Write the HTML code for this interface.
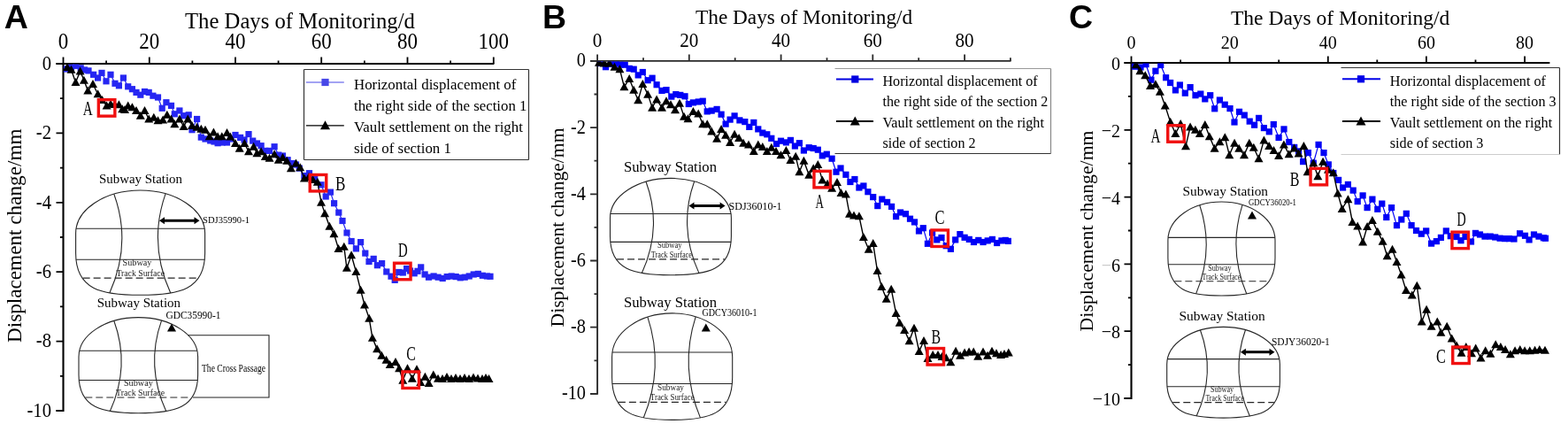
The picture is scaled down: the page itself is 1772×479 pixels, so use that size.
<!DOCTYPE html>
<html><head><meta charset="utf-8"><style>
html,body{margin:0;padding:0;background:#fff;}
svg{display:block;}
</style></head><body>
<svg width="1772" height="479" viewBox="0 0 1772 479">
<rect width="1772" height="479" fill="#fff"/>
<path d="M63.5,72.0 H558.4 M71.5,72.0 V464.0 H63.5" fill="none" stroke="#000" stroke-width="2.1"/>
<path d="M71.5,72.0 v-7.5 M120.1,72.0 v-3.6 M168.8,72.0 v-7.5 M217.4,72.0 v-3.6 M266.0,72.0 v-7.5 M314.6,72.0 v-3.6 M363.2,72.0 v-7.5 M411.9,72.0 v-3.6 M460.5,72.0 v-7.5 M509.1,72.0 v-3.6 M557.8,72.0 v-7.5 M71.5,72.0 h-8 M71.5,111.2 h-3.6 M71.5,150.4 h-8 M71.5,189.6 h-3.6 M71.5,228.8 h-8 M71.5,268.0 h-3.6 M71.5,307.2 h-8 M71.5,346.4 h-3.6 M71.5,385.6 h-8 M71.5,424.8 h-3.6 M71.5,464.0 h-8" fill="none" stroke="#000" stroke-width="1.8"/>
<text transform="translate(71.50,55.00) scale(0.92,1)" font-family="'Liberation Serif', 'Times New Roman', serif" font-size="25" text-anchor="middle" font-weight="normal" fill="#000" >0</text>
<text transform="translate(168.75,55.00) scale(0.92,1)" font-family="'Liberation Serif', 'Times New Roman', serif" font-size="25" text-anchor="middle" font-weight="normal" fill="#000" >20</text>
<text transform="translate(266.00,55.00) scale(0.92,1)" font-family="'Liberation Serif', 'Times New Roman', serif" font-size="25" text-anchor="middle" font-weight="normal" fill="#000" >40</text>
<text transform="translate(363.25,55.00) scale(0.92,1)" font-family="'Liberation Serif', 'Times New Roman', serif" font-size="25" text-anchor="middle" font-weight="normal" fill="#000" >60</text>
<text transform="translate(460.50,55.00) scale(0.92,1)" font-family="'Liberation Serif', 'Times New Roman', serif" font-size="25" text-anchor="middle" font-weight="normal" fill="#000" >80</text>
<text transform="translate(557.75,55.00) scale(0.92,1)" font-family="'Liberation Serif', 'Times New Roman', serif" font-size="25" text-anchor="middle" font-weight="normal" fill="#000" >100</text>
<text transform="translate(58.00,78.80) scale(0.88,1)" font-family="'Liberation Serif', 'Times New Roman', serif" font-size="23.5" text-anchor="end" font-weight="normal" fill="#000" >0</text>
<text transform="translate(58.00,157.20) scale(0.88,1)" font-family="'Liberation Serif', 'Times New Roman', serif" font-size="23.5" text-anchor="end" font-weight="normal" fill="#000" >-2</text>
<text transform="translate(58.00,235.60) scale(0.88,1)" font-family="'Liberation Serif', 'Times New Roman', serif" font-size="23.5" text-anchor="end" font-weight="normal" fill="#000" >-4</text>
<text transform="translate(58.00,314.00) scale(0.88,1)" font-family="'Liberation Serif', 'Times New Roman', serif" font-size="23.5" text-anchor="end" font-weight="normal" fill="#000" >-6</text>
<text transform="translate(58.00,392.40) scale(0.88,1)" font-family="'Liberation Serif', 'Times New Roman', serif" font-size="23.5" text-anchor="end" font-weight="normal" fill="#000" >-8</text>
<text transform="translate(58.00,470.80) scale(0.88,1)" font-family="'Liberation Serif', 'Times New Roman', serif" font-size="23.5" text-anchor="end" font-weight="normal" fill="#000" >-10</text>
<text x="209.00" y="31.90" font-family="'Liberation Serif', 'Times New Roman', serif" font-size="24.7" text-anchor="start" font-weight="normal" fill="#000" >The Days of Monitoring/d</text>
<text transform="translate(23.5,387) rotate(-90)" font-family="'Liberation Serif', 'Times New Roman', serif" font-size="23.2">Displacement change/mm</text>
<text x="4.70" y="31.60" font-family="'Liberation Sans', Arial, sans-serif" font-size="37.5" text-anchor="start" font-weight="bold" fill="#000" >A</text>
<path d="M667.1,68.9 H1142.5 M675.1,68.9 V444.9 H667.1" fill="none" stroke="#2a2a2a" stroke-width="1.9"/>
<path d="M675.1,68.9 v-7.5 M727.0,68.9 v-3.6 M778.8,68.9 v-7.5 M830.7,68.9 v-3.6 M882.6,68.9 v-7.5 M934.5,68.9 v-3.6 M986.3,68.9 v-7.5 M1038.2,68.9 v-3.6 M1090.1,68.9 v-7.5 M1141.9,68.9 v-3.6 M1141.9,68.9 v-3.5 M675.1,68.9 h-8 M675.1,106.5 h-3.6 M675.1,144.1 h-8 M675.1,181.7 h-3.6 M675.1,219.3 h-8 M675.1,256.9 h-3.6 M675.1,294.5 h-8 M675.1,332.1 h-3.6 M675.1,369.7 h-8 M675.1,407.3 h-3.6 M675.1,444.9 h-8" fill="none" stroke="#2a2a2a" stroke-width="1.8"/>
<text transform="translate(675.10,53.00) scale(0.95,1)" font-family="'Liberation Serif', 'Times New Roman', serif" font-size="22.3" text-anchor="middle" font-weight="normal" fill="#000" >0</text>
<text transform="translate(778.84,53.00) scale(0.95,1)" font-family="'Liberation Serif', 'Times New Roman', serif" font-size="22.3" text-anchor="middle" font-weight="normal" fill="#000" >20</text>
<text transform="translate(882.58,53.00) scale(0.95,1)" font-family="'Liberation Serif', 'Times New Roman', serif" font-size="22.3" text-anchor="middle" font-weight="normal" fill="#000" >40</text>
<text transform="translate(986.32,53.00) scale(0.95,1)" font-family="'Liberation Serif', 'Times New Roman', serif" font-size="22.3" text-anchor="middle" font-weight="normal" fill="#000" >60</text>
<text transform="translate(1090.06,53.00) scale(0.95,1)" font-family="'Liberation Serif', 'Times New Roman', serif" font-size="22.3" text-anchor="middle" font-weight="normal" fill="#000" >80</text>
<text transform="translate(662.00,75.40) scale(0.91,1)" font-family="'Liberation Serif', 'Times New Roman', serif" font-size="22.3" text-anchor="end" font-weight="normal" fill="#000" >0</text>
<text transform="translate(662.00,150.60) scale(0.91,1)" font-family="'Liberation Serif', 'Times New Roman', serif" font-size="22.3" text-anchor="end" font-weight="normal" fill="#000" >-2</text>
<text transform="translate(662.00,225.80) scale(0.91,1)" font-family="'Liberation Serif', 'Times New Roman', serif" font-size="22.3" text-anchor="end" font-weight="normal" fill="#000" >-4</text>
<text transform="translate(662.00,301.00) scale(0.91,1)" font-family="'Liberation Serif', 'Times New Roman', serif" font-size="22.3" text-anchor="end" font-weight="normal" fill="#000" >-6</text>
<text transform="translate(662.00,376.20) scale(0.91,1)" font-family="'Liberation Serif', 'Times New Roman', serif" font-size="22.3" text-anchor="end" font-weight="normal" fill="#000" >-8</text>
<text transform="translate(662.00,451.40) scale(0.91,1)" font-family="'Liberation Serif', 'Times New Roman', serif" font-size="22.3" text-anchor="end" font-weight="normal" fill="#000" >-10</text>
<text x="786.00" y="26.60" font-family="'Liberation Serif', 'Times New Roman', serif" font-size="23.3" text-anchor="start" font-weight="normal" fill="#000" >The Days of Monitoring/d</text>
<text transform="translate(637,369.4) rotate(-90)" font-family="'Liberation Serif', 'Times New Roman', serif" font-size="21.6">Displacement change/mm</text>
<text x="613.10" y="31.60" font-family="'Liberation Sans', Arial, sans-serif" font-size="37.5" text-anchor="start" font-weight="bold" fill="#000" >B</text>
<path d="M1270.5,71.0 H1751.4 M1278.5,71.0 V450.0 H1270.5" fill="none" stroke="#000" stroke-width="2.1"/>
<path d="M1278.5,71.0 v-7.5 M1334.1,71.0 v-3.6 M1389.6,71.0 v-7.5 M1445.2,71.0 v-3.6 M1500.8,71.0 v-7.5 M1556.3,71.0 v-3.6 M1611.9,71.0 v-7.5 M1667.5,71.0 v-3.6 M1723.1,71.0 v-7.5 M1278.5,71.0 h-8 M1278.5,108.9 h-3.6 M1278.5,146.8 h-8 M1278.5,184.7 h-3.6 M1278.5,222.6 h-8 M1278.5,260.5 h-3.6 M1278.5,298.4 h-8 M1278.5,336.3 h-3.6 M1278.5,374.2 h-8 M1278.5,412.1 h-3.6 M1278.5,450.0 h-8" fill="none" stroke="#000" stroke-width="1.8"/>
<text transform="translate(1278.50,55.00) scale(0.91,1)" font-family="'Liberation Serif', 'Times New Roman', serif" font-size="22.0" text-anchor="middle" font-weight="normal" fill="#000" >0</text>
<text transform="translate(1389.64,55.00) scale(0.91,1)" font-family="'Liberation Serif', 'Times New Roman', serif" font-size="22.0" text-anchor="middle" font-weight="normal" fill="#000" >20</text>
<text transform="translate(1500.78,55.00) scale(0.91,1)" font-family="'Liberation Serif', 'Times New Roman', serif" font-size="22.0" text-anchor="middle" font-weight="normal" fill="#000" >40</text>
<text transform="translate(1611.92,55.00) scale(0.91,1)" font-family="'Liberation Serif', 'Times New Roman', serif" font-size="22.0" text-anchor="middle" font-weight="normal" fill="#000" >60</text>
<text transform="translate(1723.06,55.00) scale(0.91,1)" font-family="'Liberation Serif', 'Times New Roman', serif" font-size="22.0" text-anchor="middle" font-weight="normal" fill="#000" >80</text>
<text transform="translate(1266.00,79.20) scale(0.91,1)" font-family="'Liberation Serif', 'Times New Roman', serif" font-size="22.0" text-anchor="end" font-weight="normal" fill="#000" >0</text>
<text transform="translate(1266.00,155.00) scale(0.91,1)" font-family="'Liberation Serif', 'Times New Roman', serif" font-size="22.0" text-anchor="end" font-weight="normal" fill="#000" >−2</text>
<text transform="translate(1266.00,230.80) scale(0.91,1)" font-family="'Liberation Serif', 'Times New Roman', serif" font-size="22.0" text-anchor="end" font-weight="normal" fill="#000" >−4</text>
<text transform="translate(1266.00,306.60) scale(0.91,1)" font-family="'Liberation Serif', 'Times New Roman', serif" font-size="22.0" text-anchor="end" font-weight="normal" fill="#000" ><tspan fill="#c8c8c8">−</tspan>6</text>
<text transform="translate(1266.00,382.40) scale(0.91,1)" font-family="'Liberation Serif', 'Times New Roman', serif" font-size="22.0" text-anchor="end" font-weight="normal" fill="#000" >−8</text>
<text transform="translate(1266.00,458.20) scale(0.91,1)" font-family="'Liberation Serif', 'Times New Roman', serif" font-size="22.0" text-anchor="end" font-weight="normal" fill="#000" >−10</text>
<text x="1391.00" y="28.00" font-family="'Liberation Serif', 'Times New Roman', serif" font-size="23.5" text-anchor="start" font-weight="normal" fill="#000" >The Days of Monitoring/d</text>
<text transform="translate(1235,374.4) rotate(-90)" font-family="'Liberation Serif', 'Times New Roman', serif" font-size="21.8">Displacement change/mm</text>
<text x="1207.90" y="31.60" font-family="'Liberation Sans', Arial, sans-serif" font-size="37.5" text-anchor="start" font-weight="bold" fill="#000" >C</text>
<line x1="343.50" y1="78.50" x2="597.50" y2="78.50" stroke="#333" stroke-width="1.2" />
<line x1="597.50" y1="78.50" x2="597.50" y2="180.50" stroke="#333" stroke-width="1.2" />
<line x1="343.50" y1="180.50" x2="597.50" y2="180.50" stroke="#333" stroke-width="1.2" />
<line x1="343.50" y1="78.50" x2="343.50" y2="180.50" stroke="#333" stroke-width="1.2" />
<line x1="346.00" y1="93.00" x2="388.80" y2="93.00" stroke="#4848e8" stroke-width="1.1" />
<rect x="363.40" y="88.90" width="8.2" height="8.2" fill="#4848e8"/>
<line x1="346.00" y1="141.80" x2="388.80" y2="141.80" stroke="#000" stroke-width="1.2" />
<path d="M367.50,136.36 L373.00,146.26 L362.00,146.26 Z" fill="#000"/>
<text x="400.00" y="100.50" font-family="'Liberation Serif', 'Times New Roman', serif" font-size="16.85" text-anchor="start" font-weight="normal" fill="#000" >Horizontal displacement of</text>
<text x="400.00" y="124.50" font-family="'Liberation Serif', 'Times New Roman', serif" font-size="16.85" text-anchor="start" font-weight="normal" fill="#000" >the right side of the section 1</text>
<text x="400.00" y="148.80" font-family="'Liberation Serif', 'Times New Roman', serif" font-size="16.85" text-anchor="start" font-weight="normal" fill="#000" >Vault settlement on the right</text>
<text x="400.00" y="173.00" font-family="'Liberation Serif', 'Times New Roman', serif" font-size="16.85" text-anchor="start" font-weight="normal" fill="#000" >side of section 1</text>
<line x1="943.50" y1="77.50" x2="1187.50" y2="77.50" stroke="#999" stroke-width="1.2" />
<line x1="1187.50" y1="77.50" x2="1187.50" y2="173.50" stroke="#888" stroke-width="1.2" />
<line x1="943.50" y1="173.50" x2="1187.50" y2="173.50" stroke="#333" stroke-width="1.2" />
<line x1="945.00" y1="89.50" x2="987.00" y2="89.50" stroke="#0000e0" stroke-width="2" />
<rect x="962.20" y="85.40" width="8.2" height="8.2" fill="#0000e0"/>
<line x1="945.00" y1="137.00" x2="987.00" y2="137.00" stroke="#000" stroke-width="2" />
<path d="M966.30,131.56 L971.80,141.46 L960.80,141.46 Z" fill="#000"/>
<text x="997.50" y="97.00" font-family="'Liberation Serif', 'Times New Roman', serif" font-size="16.1" text-anchor="start" font-weight="normal" fill="#000" >Horizontal displacement of</text>
<text x="997.50" y="120.00" font-family="'Liberation Serif', 'Times New Roman', serif" font-size="16.1" text-anchor="start" font-weight="normal" fill="#000" >the right side of the section 2</text>
<text x="997.50" y="143.80" font-family="'Liberation Serif', 'Times New Roman', serif" font-size="16.1" text-anchor="start" font-weight="normal" fill="#000" >Vault settlement on the right</text>
<text x="997.50" y="167.00" font-family="'Liberation Serif', 'Times New Roman', serif" font-size="16.1" text-anchor="start" font-weight="normal" fill="#000" >side of section 2</text>
<line x1="1515.50" y1="76.50" x2="1762.50" y2="76.50" stroke="#333" stroke-width="1.2" />
<line x1="1762.50" y1="76.50" x2="1762.50" y2="174.50" stroke="#333" stroke-width="1.2" />
<line x1="1515.50" y1="174.50" x2="1762.50" y2="174.50" stroke="#ccc" stroke-width="1.2" />
<line x1="1517.00" y1="89.30" x2="1560.00" y2="89.30" stroke="#0000e8" stroke-width="2" />
<rect x="1533.90" y="85.20" width="8.2" height="8.2" fill="#0000e8"/>
<line x1="1517.00" y1="137.00" x2="1560.00" y2="137.00" stroke="#000" stroke-width="2.2" />
<path d="M1538.00,131.56 L1543.50,141.46 L1532.50,141.46 Z" fill="#000"/>
<text x="1570.75" y="97.00" font-family="'Liberation Serif', 'Times New Roman', serif" font-size="16.2" text-anchor="start" font-weight="normal" fill="#000" >Horizontal displacement of</text>
<text x="1570.75" y="120.00" font-family="'Liberation Serif', 'Times New Roman', serif" font-size="16.2" text-anchor="start" font-weight="normal" fill="#000" >the right side of the section 3</text>
<text x="1570.75" y="144.30" font-family="'Liberation Serif', 'Times New Roman', serif" font-size="16.2" text-anchor="start" font-weight="normal" fill="#000" >Vault settlement on the right</text>
<text x="1570.75" y="167.00" font-family="'Liberation Serif', 'Times New Roman', serif" font-size="16.2" text-anchor="start" font-weight="normal" fill="#000" >side of section 3</text>
<text x="112.00" y="207.00" font-family="'Liberation Serif', 'Times New Roman', serif" font-size="15" text-anchor="start" font-weight="normal" fill="#000" textLength="94.0" lengthAdjust="spacingAndGlyphs">Subway Station</text>
<path d="M85.60,263.50 A73.00,48.50 0 0 1 231.60,263.50 L231.60,285.98 C231.60,327.38 202.40,333.30 158.60,333.30 C114.80,333.30 85.60,327.38 85.60,285.98 Z" fill="none" stroke="#262626" stroke-width="1.1"/>
<line x1="86.04" y1="258.20" x2="231.16" y2="258.20" stroke="#262626" stroke-width="1.1" />
<line x1="85.93" y1="293.20" x2="231.27" y2="293.20" stroke="#262626" stroke-width="1.1" />
<line x1="93.64" y1="314.10" x2="223.56" y2="314.10" stroke="#262626" stroke-width="1.1" stroke-dasharray="8 4"/>
<path d="M128.82,219.22 Q149.11,275.09 123.85,330.97" fill="none" stroke="#262626" stroke-width="1.1"/>
<path d="M187.07,218.84 Q167.29,274.96 192.76,331.07" fill="none" stroke="#262626" stroke-width="1.1"/>
<text x="138.62" y="300.00" font-family="'Liberation Serif', 'Times New Roman', serif" font-size="10.5" text-anchor="start" font-weight="normal" fill="#222" textLength="32.8" lengthAdjust="spacingAndGlyphs">Subway</text>
<text x="131.40" y="312.00" font-family="'Liberation Serif', 'Times New Roman', serif" font-size="10.5" text-anchor="start" font-weight="normal" fill="#222" textLength="54.6" lengthAdjust="spacingAndGlyphs">Track Surface</text>
<line x1="185.00" y1="249.3" x2="220.50" y2="249.3" stroke="#000" stroke-width="3"/>
<path d="M180.00,249.3 l6,-4 v8 Z M225.50,249.3 l-6,-4 v8 Z" fill="#000"/>
<text x="229.00" y="252.40" font-family="'Liberation Serif', 'Times New Roman', serif" font-size="11" text-anchor="start" font-weight="normal" fill="#000" textLength="53" lengthAdjust="spacingAndGlyphs">SDJ35990-1</text>
<text x="109.80" y="347.00" font-family="'Liberation Serif', 'Times New Roman', serif" font-size="15" text-anchor="start" font-weight="normal" fill="#000" textLength="94.2" lengthAdjust="spacingAndGlyphs">Subway Station</text>
<path d="M89.00,402.96 A67.30,44.36 0 0 1 223.60,402.96 L223.60,423.52 C223.60,461.39 196.68,466.80 156.30,466.80 C115.92,466.80 89.00,461.39 89.00,423.52 Z" fill="none" stroke="#262626" stroke-width="1.1"/>
<line x1="89.79" y1="396.20" x2="222.81" y2="396.20" stroke="#262626" stroke-width="1.1" />
<line x1="89.24" y1="429.50" x2="223.36" y2="429.50" stroke="#262626" stroke-width="1.1" />
<line x1="96.31" y1="449.00" x2="216.29" y2="449.00" stroke="#262626" stroke-width="1.1" stroke-dasharray="8 4"/>
<path d="M128.84,362.46 Q147.55,413.56 124.27,464.66" fill="none" stroke="#262626" stroke-width="1.1"/>
<path d="M182.55,362.11 Q164.31,413.44 187.80,464.76" fill="none" stroke="#262626" stroke-width="1.1"/>
<text x="139.90" y="435.70" font-family="'Liberation Serif', 'Times New Roman', serif" font-size="10.5" text-anchor="start" font-weight="normal" fill="#222" textLength="33.0" lengthAdjust="spacingAndGlyphs">Subway</text>
<text x="131.00" y="447.20" font-family="'Liberation Serif', 'Times New Roman', serif" font-size="10.5" text-anchor="start" font-weight="normal" fill="#222" textLength="55.0" lengthAdjust="spacingAndGlyphs">Track Surface</text>
<text x="187.50" y="360.00" font-family="'Liberation Serif', 'Times New Roman', serif" font-size="11.5" text-anchor="start" font-weight="normal" fill="#000" textLength="62" lengthAdjust="spacingAndGlyphs">GDC35990-1</text>
<path d="M194.00,365.45 L199.00,374.45 L189.00,374.45 Z" fill="#000"/>
<path d="M212,378.8 H304 V449 H218" fill="none" stroke="#222" stroke-width="1.1"/>
<text x="228.00" y="420.00" font-family="'Liberation Serif', 'Times New Roman', serif" font-size="11.5" text-anchor="start" font-weight="normal" fill="#000" textLength="72" lengthAdjust="spacingAndGlyphs">The Cross Passage</text>
<text x="705.00" y="193.50" font-family="'Liberation Serif', 'Times New Roman', serif" font-size="16.5" text-anchor="start" font-weight="normal" fill="#000" textLength="105.0" lengthAdjust="spacingAndGlyphs">Subway Station</text>
<path d="M689.50,246.21 A68.45,44.81 0 0 1 826.40,246.21 L826.40,266.98 C826.40,305.24 799.02,310.70 757.95,310.70 C716.88,310.70 689.50,305.24 689.50,266.98 Z" fill="none" stroke="#262626" stroke-width="1.1"/>
<line x1="689.88" y1="241.50" x2="826.02" y2="241.50" stroke="#262626" stroke-width="1.1" />
<line x1="689.78" y1="273.40" x2="826.12" y2="273.40" stroke="#262626" stroke-width="1.1" />
<line x1="697.04" y1="292.90" x2="818.86" y2="292.90" stroke="#262626" stroke-width="1.1" stroke-dasharray="8 4"/>
<path d="M730.02,205.30 Q749.05,256.92 725.37,308.54" fill="none" stroke="#262626" stroke-width="1.1"/>
<path d="M784.65,204.95 Q766.10,256.79 789.98,308.64" fill="none" stroke="#262626" stroke-width="1.1"/>
<text x="742.97" y="280.30" font-family="'Liberation Serif', 'Times New Roman', serif" font-size="10.5" text-anchor="start" font-weight="normal" fill="#222" textLength="27.7" lengthAdjust="spacingAndGlyphs">Subway</text>
<text x="735.80" y="290.70" font-family="'Liberation Serif', 'Times New Roman', serif" font-size="10.5" text-anchor="start" font-weight="normal" fill="#222" textLength="46.1" lengthAdjust="spacingAndGlyphs">Track Surface</text>
<line x1="783.50" y1="232.5" x2="814.60" y2="232.5" stroke="#000" stroke-width="3"/>
<path d="M778.50,232.5 l6,-4 v8 Z M819.60,232.5 l-6,-4 v8 Z" fill="#000"/>
<text x="823.60" y="236.50" font-family="'Liberation Serif', 'Times New Roman', serif" font-size="12" text-anchor="start" font-weight="normal" fill="#000" textLength="60" lengthAdjust="spacingAndGlyphs">SDJ36010-1</text>
<text x="704.90" y="347.20" font-family="'Liberation Serif', 'Times New Roman', serif" font-size="16.5" text-anchor="start" font-weight="normal" fill="#000" textLength="105.1" lengthAdjust="spacingAndGlyphs">Subway Station</text>
<path d="M691.60,403.30 A68.05,49.40 0 0 1 827.70,403.30 L827.70,426.20 C827.70,468.38 800.48,474.40 759.65,474.40 C718.82,474.40 691.60,468.38 691.60,426.20 Z" fill="none" stroke="#262626" stroke-width="1.1"/>
<line x1="691.99" y1="398.00" x2="827.31" y2="398.00" stroke="#262626" stroke-width="1.1" />
<line x1="691.90" y1="433.50" x2="827.40" y2="433.50" stroke="#262626" stroke-width="1.1" />
<line x1="698.87" y1="454.40" x2="820.43" y2="454.40" stroke="#262626" stroke-width="1.1" stroke-dasharray="8 4"/>
<path d="M731.89,358.20 Q750.80,415.11 727.26,472.02" fill="none" stroke="#262626" stroke-width="1.1"/>
<path d="M786.19,357.81 Q767.75,414.97 791.50,472.13" fill="none" stroke="#262626" stroke-width="1.1"/>
<text x="743.06" y="441.20" font-family="'Liberation Serif', 'Times New Roman', serif" font-size="10.5" text-anchor="start" font-weight="normal" fill="#222" textLength="29.9" lengthAdjust="spacingAndGlyphs">Subway</text>
<text x="734.80" y="451.80" font-family="'Liberation Serif', 'Times New Roman', serif" font-size="10.5" text-anchor="start" font-weight="normal" fill="#222" textLength="49.8" lengthAdjust="spacingAndGlyphs">Track Surface</text>
<text x="793.50" y="357.20" font-family="'Liberation Serif', 'Times New Roman', serif" font-size="11.5" text-anchor="start" font-weight="normal" fill="#000" textLength="62" lengthAdjust="spacingAndGlyphs">GDCY36010-1</text>
<path d="M797.80,365.55 L802.80,374.55 L792.80,374.55 Z" fill="#000"/>
<text x="1336.50" y="220.70" font-family="'Liberation Serif', 'Times New Roman', serif" font-size="15" text-anchor="start" font-weight="normal" fill="#000" textLength="96.5" lengthAdjust="spacingAndGlyphs">Subway Station</text>
<path d="M1319.90,271.46 A60.55,43.46 0 0 1 1441.00,271.46 L1441.00,291.60 C1441.00,328.70 1416.78,334.00 1380.45,334.00 C1344.12,334.00 1319.90,328.70 1319.90,291.60 Z" fill="none" stroke="#262626" stroke-width="1.1"/>
<line x1="1320.05" y1="268.40" x2="1440.85" y2="268.40" stroke="#262626" stroke-width="1.1" />
<line x1="1320.24" y1="298.80" x2="1440.66" y2="298.80" stroke="#262626" stroke-width="1.1" />
<line x1="1327.37" y1="317.80" x2="1433.53" y2="317.80" stroke="#262626" stroke-width="1.1" stroke-dasharray="8 4"/>
<path d="M1355.75,231.78 Q1372.58,281.85 1351.63,331.91" fill="none" stroke="#262626" stroke-width="1.1"/>
<path d="M1404.06,231.44 Q1387.66,281.72 1408.79,332.00" fill="none" stroke="#262626" stroke-width="1.1"/>
<text x="1365.26" y="305.50" font-family="'Liberation Serif', 'Times New Roman', serif" font-size="10.5" text-anchor="start" font-weight="normal" fill="#222" textLength="26.3" lengthAdjust="spacingAndGlyphs">Subway</text>
<text x="1358.50" y="315.70" font-family="'Liberation Serif', 'Times New Roman', serif" font-size="10.5" text-anchor="start" font-weight="normal" fill="#222" textLength="43.8" lengthAdjust="spacingAndGlyphs">Track Surface</text>
<text x="1411.00" y="232.40" font-family="'Liberation Serif', 'Times New Roman', serif" font-size="10.5" text-anchor="start" font-weight="normal" fill="#000" textLength="54" lengthAdjust="spacingAndGlyphs">GDCY36020-1</text>
<path d="M1415.00,238.55 L1420.00,247.55 L1410.00,247.55 Z" fill="#000"/>
<text x="1332.40" y="362.30" font-family="'Liberation Serif', 'Times New Roman', serif" font-size="15" text-anchor="start" font-weight="normal" fill="#000" textLength="97.3" lengthAdjust="spacingAndGlyphs">Subway Station</text>
<path d="M1318.70,411.51 A63.85,42.11 0 0 1 1446.40,411.51 L1446.40,431.02 C1446.40,466.97 1420.86,472.10 1382.55,472.10 C1344.24,472.10 1318.70,466.97 1318.70,431.02 Z" fill="none" stroke="#262626" stroke-width="1.1"/>
<line x1="1319.33" y1="405.60" x2="1445.77" y2="405.60" stroke="#262626" stroke-width="1.1" />
<line x1="1318.94" y1="436.80" x2="1446.16" y2="436.80" stroke="#262626" stroke-width="1.1" />
<line x1="1325.27" y1="454.60" x2="1439.83" y2="454.60" stroke="#262626" stroke-width="1.1" stroke-dasharray="8 4"/>
<path d="M1356.50,373.06 Q1374.25,421.57 1352.16,470.07" fill="none" stroke="#262626" stroke-width="1.1"/>
<path d="M1407.45,372.73 Q1390.15,421.45 1412.43,470.16" fill="none" stroke="#262626" stroke-width="1.1"/>
<text x="1367.92" y="443.00" font-family="'Liberation Serif', 'Times New Roman', serif" font-size="10.5" text-anchor="start" font-weight="normal" fill="#222" textLength="26.2" lengthAdjust="spacingAndGlyphs">Subway</text>
<text x="1362.40" y="452.60" font-family="'Liberation Serif', 'Times New Roman', serif" font-size="10.5" text-anchor="start" font-weight="normal" fill="#222" textLength="43.6" lengthAdjust="spacingAndGlyphs">Track Surface</text>
<line x1="1406.90" y1="397.7" x2="1435.50" y2="397.7" stroke="#000" stroke-width="3"/>
<path d="M1401.90,397.7 l6,-4 v8 Z M1440.50,397.7 l-6,-4 v8 Z" fill="#000"/>
<text x="1436.90" y="389.80" font-family="'Liberation Serif', 'Times New Roman', serif" font-size="12" text-anchor="start" font-weight="normal" fill="#000" textLength="66" lengthAdjust="spacingAndGlyphs">SDJY36020-1</text>
<clipPath id="clipA"><rect x="59.5" y="72.5" width="510.2" height="392.0"/></clipPath>
<g clip-path="url(#clipA)">
<path d="M75.5,78.0 L80.5,76.0 L85.5,74.3 L91.2,76.8 L95.5,79.0 L100.0,79.9 L105.6,84.3 L110.6,88.0 L115.0,82.4 L120.0,91.8 L125.0,84.3 L130.0,94.3 L134.4,96.8 L139.4,88.0 L144.7,97.8 L149.4,100.7 L154.0,104.4 L158.8,107.2 L163.5,103.5 L168.2,104.4 L172.9,108.2 L178.5,110.0 L183.2,122.3 L187.9,115.7 L193.5,119.4 L197.3,128.8 L202.9,125.0 L207.6,130.7 L213.2,129.8 L217.0,146.7 L222.6,134.5 L227.3,155.1 L232.0,157.0 L237.7,158.9 L242.0,160.0 L246.1,161.7 L251.0,161.0 L256.5,161.0 L261.0,157.0 L266.0,152.5 L271.6,155.4 L276.0,158.0 L281.0,151.6 L285.7,159.1 L290.5,162.0 L295.1,164.7 L299.8,170.4 L304.5,170.4 L310.1,165.7 L314.8,175.1 L319.5,176.0 L325.1,180.7 L330.8,184.5 L334.5,186.0 L338.3,190.1 L343.9,198.5 L349.5,195.7 L355.7,202.5 L363.0,208.8 L368.2,222.0 L373.4,217.1 L377.6,229.7 L382.8,240.1 L387.0,249.5 L392.0,263.0 L397.1,272.5 L402.4,280.9 L407.6,273.6 L412.8,286.1 L417.0,295.5 L422.2,292.4 L426.4,299.7 L431.6,297.6 L436.8,307.0 L442.0,312.2 L446.2,316.4 L450.7,307.5 L455.3,308.0 L459.6,303.5 L463.5,306.0 L468.2,308.8 L472.0,306.3 L475.7,301.9 L480.1,310.0 L484.5,313.2 L490.1,312.0 L495.1,313.2 L500.2,314.5 L505.2,312.6 L510.2,312.0 L515.2,312.6 L520.2,313.8 L525.2,313.2 L530.2,312.0 L535.2,310.0 L540.3,309.4 L545.3,311.3 L550.3,312.0 L554.0,312.3" fill="none" stroke="#2626f2" stroke-width="1.2"/>
<g><rect x="71.90" y="74.40" width="7.2" height="7.2" fill="#2626f2"/><rect x="76.90" y="72.40" width="7.2" height="7.2" fill="#2626f2"/><rect x="81.90" y="70.70" width="7.2" height="7.2" fill="#2626f2"/><rect x="87.60" y="73.20" width="7.2" height="7.2" fill="#2626f2"/><rect x="91.90" y="75.40" width="7.2" height="7.2" fill="#2626f2"/><rect x="96.40" y="76.30" width="7.2" height="7.2" fill="#2626f2"/><rect x="102.00" y="80.70" width="7.2" height="7.2" fill="#2626f2"/><rect x="107.00" y="84.40" width="7.2" height="7.2" fill="#2626f2"/><rect x="111.40" y="78.80" width="7.2" height="7.2" fill="#2626f2"/><rect x="116.40" y="88.20" width="7.2" height="7.2" fill="#2626f2"/><rect x="121.40" y="80.70" width="7.2" height="7.2" fill="#2626f2"/><rect x="126.40" y="90.70" width="7.2" height="7.2" fill="#2626f2"/><rect x="130.80" y="93.20" width="7.2" height="7.2" fill="#2626f2"/><rect x="135.80" y="84.40" width="7.2" height="7.2" fill="#2626f2"/><rect x="141.10" y="94.20" width="7.2" height="7.2" fill="#2626f2"/><rect x="145.80" y="97.10" width="7.2" height="7.2" fill="#2626f2"/><rect x="150.40" y="100.80" width="7.2" height="7.2" fill="#2626f2"/><rect x="155.20" y="103.60" width="7.2" height="7.2" fill="#2626f2"/><rect x="159.90" y="99.90" width="7.2" height="7.2" fill="#2626f2"/><rect x="164.60" y="100.80" width="7.2" height="7.2" fill="#2626f2"/><rect x="169.30" y="104.60" width="7.2" height="7.2" fill="#2626f2"/><rect x="174.90" y="106.40" width="7.2" height="7.2" fill="#2626f2"/><rect x="179.60" y="118.70" width="7.2" height="7.2" fill="#2626f2"/><rect x="184.30" y="112.10" width="7.2" height="7.2" fill="#2626f2"/><rect x="189.90" y="115.80" width="7.2" height="7.2" fill="#2626f2"/><rect x="193.70" y="125.20" width="7.2" height="7.2" fill="#2626f2"/><rect x="199.30" y="121.40" width="7.2" height="7.2" fill="#2626f2"/><rect x="204.00" y="127.10" width="7.2" height="7.2" fill="#2626f2"/><rect x="209.60" y="126.20" width="7.2" height="7.2" fill="#2626f2"/><rect x="213.40" y="143.10" width="7.2" height="7.2" fill="#2626f2"/><rect x="219.00" y="130.90" width="7.2" height="7.2" fill="#2626f2"/><rect x="223.70" y="151.50" width="7.2" height="7.2" fill="#2626f2"/><rect x="228.40" y="153.40" width="7.2" height="7.2" fill="#2626f2"/><rect x="234.10" y="155.30" width="7.2" height="7.2" fill="#2626f2"/><rect x="238.40" y="156.40" width="7.2" height="7.2" fill="#2626f2"/><rect x="242.50" y="158.10" width="7.2" height="7.2" fill="#2626f2"/><rect x="247.40" y="157.40" width="7.2" height="7.2" fill="#2626f2"/><rect x="252.90" y="157.40" width="7.2" height="7.2" fill="#2626f2"/><rect x="257.40" y="153.40" width="7.2" height="7.2" fill="#2626f2"/><rect x="262.40" y="148.90" width="7.2" height="7.2" fill="#2626f2"/><rect x="268.00" y="151.80" width="7.2" height="7.2" fill="#2626f2"/><rect x="272.40" y="154.40" width="7.2" height="7.2" fill="#2626f2"/><rect x="277.40" y="148.00" width="7.2" height="7.2" fill="#2626f2"/><rect x="282.10" y="155.50" width="7.2" height="7.2" fill="#2626f2"/><rect x="286.90" y="158.40" width="7.2" height="7.2" fill="#2626f2"/><rect x="291.50" y="161.10" width="7.2" height="7.2" fill="#2626f2"/><rect x="296.20" y="166.80" width="7.2" height="7.2" fill="#2626f2"/><rect x="300.90" y="166.80" width="7.2" height="7.2" fill="#2626f2"/><rect x="306.50" y="162.10" width="7.2" height="7.2" fill="#2626f2"/><rect x="311.20" y="171.50" width="7.2" height="7.2" fill="#2626f2"/><rect x="315.90" y="172.40" width="7.2" height="7.2" fill="#2626f2"/><rect x="321.50" y="177.10" width="7.2" height="7.2" fill="#2626f2"/><rect x="327.20" y="180.90" width="7.2" height="7.2" fill="#2626f2"/><rect x="330.90" y="182.40" width="7.2" height="7.2" fill="#2626f2"/><rect x="334.70" y="186.50" width="7.2" height="7.2" fill="#2626f2"/><rect x="340.30" y="194.90" width="7.2" height="7.2" fill="#2626f2"/><rect x="345.90" y="192.10" width="7.2" height="7.2" fill="#2626f2"/><rect x="352.10" y="198.90" width="7.2" height="7.2" fill="#2626f2"/><rect x="359.40" y="205.20" width="7.2" height="7.2" fill="#2626f2"/><rect x="364.60" y="218.40" width="7.2" height="7.2" fill="#2626f2"/><rect x="369.80" y="213.50" width="7.2" height="7.2" fill="#2626f2"/><rect x="374.00" y="226.10" width="7.2" height="7.2" fill="#2626f2"/><rect x="379.20" y="236.50" width="7.2" height="7.2" fill="#2626f2"/><rect x="383.40" y="245.90" width="7.2" height="7.2" fill="#2626f2"/><rect x="388.40" y="259.40" width="7.2" height="7.2" fill="#2626f2"/><rect x="393.50" y="268.90" width="7.2" height="7.2" fill="#2626f2"/><rect x="398.80" y="277.30" width="7.2" height="7.2" fill="#2626f2"/><rect x="404.00" y="270.00" width="7.2" height="7.2" fill="#2626f2"/><rect x="409.20" y="282.50" width="7.2" height="7.2" fill="#2626f2"/><rect x="413.40" y="291.90" width="7.2" height="7.2" fill="#2626f2"/><rect x="418.60" y="288.80" width="7.2" height="7.2" fill="#2626f2"/><rect x="422.80" y="296.10" width="7.2" height="7.2" fill="#2626f2"/><rect x="428.00" y="294.00" width="7.2" height="7.2" fill="#2626f2"/><rect x="433.20" y="303.40" width="7.2" height="7.2" fill="#2626f2"/><rect x="438.40" y="308.60" width="7.2" height="7.2" fill="#2626f2"/><rect x="442.60" y="312.80" width="7.2" height="7.2" fill="#2626f2"/><rect x="447.10" y="303.90" width="7.2" height="7.2" fill="#2626f2"/><rect x="451.70" y="304.40" width="7.2" height="7.2" fill="#2626f2"/><rect x="456.00" y="299.90" width="7.2" height="7.2" fill="#2626f2"/><rect x="459.90" y="302.40" width="7.2" height="7.2" fill="#2626f2"/><rect x="464.60" y="305.20" width="7.2" height="7.2" fill="#2626f2"/><rect x="468.40" y="302.70" width="7.2" height="7.2" fill="#2626f2"/><rect x="472.10" y="298.30" width="7.2" height="7.2" fill="#2626f2"/><rect x="476.50" y="306.40" width="7.2" height="7.2" fill="#2626f2"/><rect x="480.90" y="309.60" width="7.2" height="7.2" fill="#2626f2"/><rect x="486.50" y="308.40" width="7.2" height="7.2" fill="#2626f2"/><rect x="491.50" y="309.60" width="7.2" height="7.2" fill="#2626f2"/><rect x="496.60" y="310.90" width="7.2" height="7.2" fill="#2626f2"/><rect x="501.60" y="309.00" width="7.2" height="7.2" fill="#2626f2"/><rect x="506.60" y="308.40" width="7.2" height="7.2" fill="#2626f2"/><rect x="511.60" y="309.00" width="7.2" height="7.2" fill="#2626f2"/><rect x="516.60" y="310.20" width="7.2" height="7.2" fill="#2626f2"/><rect x="521.60" y="309.60" width="7.2" height="7.2" fill="#2626f2"/><rect x="526.60" y="308.40" width="7.2" height="7.2" fill="#2626f2"/><rect x="531.60" y="306.40" width="7.2" height="7.2" fill="#2626f2"/><rect x="536.70" y="305.80" width="7.2" height="7.2" fill="#2626f2"/><rect x="541.70" y="307.70" width="7.2" height="7.2" fill="#2626f2"/><rect x="546.70" y="308.40" width="7.2" height="7.2" fill="#2626f2"/><rect x="550.40" y="308.70" width="7.2" height="7.2" fill="#2626f2"/></g>
<path d="M76.0,76.0 L80.5,78.7 L85.5,93.0 L90.6,80.5 L94.9,90.6 L99.3,102.5 L105.0,95.0 L110.6,106.2 L115.5,113.0 L120.6,119.4 L125.0,117.5 L129.5,118.0 L134.4,118.1 L138.2,123.1 L141.0,124.0 L144.7,119.4 L149.4,121.3 L154.0,125.0 L158.8,130.7 L163.5,125.0 L168.2,134.5 L173.8,132.6 L178.5,136.3 L184.1,135.4 L188.8,129.8 L193.5,134.5 L197.3,140.1 L202.9,134.5 L207.6,142.9 L212.3,134.5 L217.0,142.0 L222.6,143.8 L227.3,145.7 L232.0,146.7 L236.7,154.2 L241.4,149.5 L246.1,154.2 L250.8,154.2 L256.5,150.0 L260.3,154.4 L266.0,161.9 L270.7,167.6 L276.3,161.9 L281.0,171.3 L286.6,165.7 L290.4,173.2 L295.1,171.3 L299.8,177.0 L304.5,178.8 L310.1,174.1 L314.8,180.7 L319.5,177.9 L324.2,181.6 L328.9,190.1 L334.5,184.5 L339.2,189.2 L343.9,201.4 L349.0,200.0 L353.5,203.0 L358.8,205.7 L363.0,228.6 L367.1,241.1 L372.4,255.8 L377.4,264.2 L382.5,280.9 L388.8,278.8 L391.9,302.8 L397.1,288.2 L402.4,307.0 L407.6,327.8 L412.0,344.5 L417.2,359.6 L420.9,381.8 L426.1,394.3 L431.3,401.6 L436.5,406.8 L440.7,412.0 L447.0,408.9 L451.1,416.2 L455.3,429.8 L460.5,416.2 L465.8,427.7 L471.0,417.2 L475.2,431.9 L480.4,425.6 L484.6,432.9 L489.8,423.5 L495.0,427.7 L500.0,428.0 L505.0,426.0 L510.0,428.0 L515.0,427.0 L520.0,428.0 L525.0,427.0 L530.0,428.0 L535.0,426.5 L540.0,427.5 L545.0,428.0 L549.0,427.0 L552.5,428.0" fill="none" stroke="#000" stroke-width="1.4"/>
<g><path d="M76.00,71.05 L81.00,80.05 L71.00,80.05 Z" fill="#000"/><path d="M80.50,73.75 L85.50,82.75 L75.50,82.75 Z" fill="#000"/><path d="M85.50,88.05 L90.50,97.05 L80.50,97.05 Z" fill="#000"/><path d="M90.60,75.55 L95.60,84.55 L85.60,84.55 Z" fill="#000"/><path d="M94.90,85.65 L99.90,94.65 L89.90,94.65 Z" fill="#000"/><path d="M99.30,97.55 L104.30,106.55 L94.30,106.55 Z" fill="#000"/><path d="M105.00,90.05 L110.00,99.05 L100.00,99.05 Z" fill="#000"/><path d="M110.60,101.25 L115.60,110.25 L105.60,110.25 Z" fill="#000"/><path d="M115.50,108.05 L120.50,117.05 L110.50,117.05 Z" fill="#000"/><path d="M120.60,114.45 L125.60,123.45 L115.60,123.45 Z" fill="#000"/><path d="M125.00,112.55 L130.00,121.55 L120.00,121.55 Z" fill="#000"/><path d="M129.50,113.05 L134.50,122.05 L124.50,122.05 Z" fill="#000"/><path d="M134.40,113.15 L139.40,122.15 L129.40,122.15 Z" fill="#000"/><path d="M138.20,118.15 L143.20,127.15 L133.20,127.15 Z" fill="#000"/><path d="M141.00,119.05 L146.00,128.05 L136.00,128.05 Z" fill="#000"/><path d="M144.70,114.45 L149.70,123.45 L139.70,123.45 Z" fill="#000"/><path d="M149.40,116.35 L154.40,125.35 L144.40,125.35 Z" fill="#000"/><path d="M154.00,120.05 L159.00,129.05 L149.00,129.05 Z" fill="#000"/><path d="M158.80,125.75 L163.80,134.75 L153.80,134.75 Z" fill="#000"/><path d="M163.50,120.05 L168.50,129.05 L158.50,129.05 Z" fill="#000"/><path d="M168.20,129.55 L173.20,138.55 L163.20,138.55 Z" fill="#000"/><path d="M173.80,127.65 L178.80,136.65 L168.80,136.65 Z" fill="#000"/><path d="M178.50,131.35 L183.50,140.35 L173.50,140.35 Z" fill="#000"/><path d="M184.10,130.45 L189.10,139.45 L179.10,139.45 Z" fill="#000"/><path d="M188.80,124.85 L193.80,133.85 L183.80,133.85 Z" fill="#000"/><path d="M193.50,129.55 L198.50,138.55 L188.50,138.55 Z" fill="#000"/><path d="M197.30,135.15 L202.30,144.15 L192.30,144.15 Z" fill="#000"/><path d="M202.90,129.55 L207.90,138.55 L197.90,138.55 Z" fill="#000"/><path d="M207.60,137.95 L212.60,146.95 L202.60,146.95 Z" fill="#000"/><path d="M212.30,129.55 L217.30,138.55 L207.30,138.55 Z" fill="#000"/><path d="M217.00,137.05 L222.00,146.05 L212.00,146.05 Z" fill="#000"/><path d="M222.60,138.85 L227.60,147.85 L217.60,147.85 Z" fill="#000"/><path d="M227.30,140.75 L232.30,149.75 L222.30,149.75 Z" fill="#000"/><path d="M232.00,141.75 L237.00,150.75 L227.00,150.75 Z" fill="#000"/><path d="M236.70,149.25 L241.70,158.25 L231.70,158.25 Z" fill="#000"/><path d="M241.40,144.55 L246.40,153.55 L236.40,153.55 Z" fill="#000"/><path d="M246.10,149.25 L251.10,158.25 L241.10,158.25 Z" fill="#000"/><path d="M250.80,149.25 L255.80,158.25 L245.80,158.25 Z" fill="#000"/><path d="M256.50,145.05 L261.50,154.05 L251.50,154.05 Z" fill="#000"/><path d="M260.30,149.45 L265.30,158.45 L255.30,158.45 Z" fill="#000"/><path d="M266.00,156.95 L271.00,165.95 L261.00,165.95 Z" fill="#000"/><path d="M270.70,162.65 L275.70,171.65 L265.70,171.65 Z" fill="#000"/><path d="M276.30,156.95 L281.30,165.95 L271.30,165.95 Z" fill="#000"/><path d="M281.00,166.35 L286.00,175.35 L276.00,175.35 Z" fill="#000"/><path d="M286.60,160.75 L291.60,169.75 L281.60,169.75 Z" fill="#000"/><path d="M290.40,168.25 L295.40,177.25 L285.40,177.25 Z" fill="#000"/><path d="M295.10,166.35 L300.10,175.35 L290.10,175.35 Z" fill="#000"/><path d="M299.80,172.05 L304.80,181.05 L294.80,181.05 Z" fill="#000"/><path d="M304.50,173.85 L309.50,182.85 L299.50,182.85 Z" fill="#000"/><path d="M310.10,169.15 L315.10,178.15 L305.10,178.15 Z" fill="#000"/><path d="M314.80,175.75 L319.80,184.75 L309.80,184.75 Z" fill="#000"/><path d="M319.50,172.95 L324.50,181.95 L314.50,181.95 Z" fill="#000"/><path d="M324.20,176.65 L329.20,185.65 L319.20,185.65 Z" fill="#000"/><path d="M328.90,185.15 L333.90,194.15 L323.90,194.15 Z" fill="#000"/><path d="M334.50,179.55 L339.50,188.55 L329.50,188.55 Z" fill="#000"/><path d="M339.20,184.25 L344.20,193.25 L334.20,193.25 Z" fill="#000"/><path d="M343.90,196.45 L348.90,205.45 L338.90,205.45 Z" fill="#000"/><path d="M349.00,195.05 L354.00,204.05 L344.00,204.05 Z" fill="#000"/><path d="M353.50,198.05 L358.50,207.05 L348.50,207.05 Z" fill="#000"/><path d="M358.80,200.75 L363.80,209.75 L353.80,209.75 Z" fill="#000"/><path d="M363.00,223.65 L368.00,232.65 L358.00,232.65 Z" fill="#000"/><path d="M367.10,236.15 L372.10,245.15 L362.10,245.15 Z" fill="#000"/><path d="M372.40,250.85 L377.40,259.85 L367.40,259.85 Z" fill="#000"/><path d="M377.40,259.25 L382.40,268.25 L372.40,268.25 Z" fill="#000"/><path d="M382.50,275.95 L387.50,284.95 L377.50,284.95 Z" fill="#000"/><path d="M388.80,273.85 L393.80,282.85 L383.80,282.85 Z" fill="#000"/><path d="M391.90,297.85 L396.90,306.85 L386.90,306.85 Z" fill="#000"/><path d="M397.10,283.25 L402.10,292.25 L392.10,292.25 Z" fill="#000"/><path d="M402.40,302.05 L407.40,311.05 L397.40,311.05 Z" fill="#000"/><path d="M407.60,322.85 L412.60,331.85 L402.60,331.85 Z" fill="#000"/><path d="M412.00,339.55 L417.00,348.55 L407.00,348.55 Z" fill="#000"/><path d="M417.20,354.65 L422.20,363.65 L412.20,363.65 Z" fill="#000"/><path d="M420.90,376.85 L425.90,385.85 L415.90,385.85 Z" fill="#000"/><path d="M426.10,389.35 L431.10,398.35 L421.10,398.35 Z" fill="#000"/><path d="M431.30,396.65 L436.30,405.65 L426.30,405.65 Z" fill="#000"/><path d="M436.50,401.85 L441.50,410.85 L431.50,410.85 Z" fill="#000"/><path d="M440.70,407.05 L445.70,416.05 L435.70,416.05 Z" fill="#000"/><path d="M447.00,403.95 L452.00,412.95 L442.00,412.95 Z" fill="#000"/><path d="M451.10,411.25 L456.10,420.25 L446.10,420.25 Z" fill="#000"/><path d="M455.30,424.85 L460.30,433.85 L450.30,433.85 Z" fill="#000"/><path d="M460.50,411.25 L465.50,420.25 L455.50,420.25 Z" fill="#000"/><path d="M465.80,422.75 L470.80,431.75 L460.80,431.75 Z" fill="#000"/><path d="M471.00,412.25 L476.00,421.25 L466.00,421.25 Z" fill="#000"/><path d="M475.20,426.95 L480.20,435.95 L470.20,435.95 Z" fill="#000"/><path d="M480.40,420.65 L485.40,429.65 L475.40,429.65 Z" fill="#000"/><path d="M484.60,427.95 L489.60,436.95 L479.60,436.95 Z" fill="#000"/><path d="M489.80,418.55 L494.80,427.55 L484.80,427.55 Z" fill="#000"/><path d="M495.00,422.75 L500.00,431.75 L490.00,431.75 Z" fill="#000"/><path d="M500.00,423.05 L505.00,432.05 L495.00,432.05 Z" fill="#000"/><path d="M505.00,421.05 L510.00,430.05 L500.00,430.05 Z" fill="#000"/><path d="M510.00,423.05 L515.00,432.05 L505.00,432.05 Z" fill="#000"/><path d="M515.00,422.05 L520.00,431.05 L510.00,431.05 Z" fill="#000"/><path d="M520.00,423.05 L525.00,432.05 L515.00,432.05 Z" fill="#000"/><path d="M525.00,422.05 L530.00,431.05 L520.00,431.05 Z" fill="#000"/><path d="M530.00,423.05 L535.00,432.05 L525.00,432.05 Z" fill="#000"/><path d="M535.00,421.55 L540.00,430.55 L530.00,430.55 Z" fill="#000"/><path d="M540.00,422.55 L545.00,431.55 L535.00,431.55 Z" fill="#000"/><path d="M545.00,423.05 L550.00,432.05 L540.00,432.05 Z" fill="#000"/><path d="M549.00,422.05 L554.00,431.05 L544.00,431.05 Z" fill="#000"/><path d="M552.50,423.05 L557.50,432.05 L547.50,432.05 Z" fill="#000"/></g>
</g>
<clipPath id="clipB"><rect x="663.1" y="69.4" width="490.8" height="376.0"/></clipPath>
<g clip-path="url(#clipB)">
<path d="M678.7,71.5 L684.5,75.7 L690.4,72.3 L696.2,71.5 L701.0,73.0 L706.2,73.2 L711.2,77.4 L716.2,78.2 L721.2,84.9 L726.3,81.5 L732.1,90.7 L737.1,88.2 L742.1,95.7 L748.0,102.4 L753.0,101.6 L758.8,109.1 L763.8,106.6 L768.8,107.4 L774.0,108.8 L778.3,117.5 L783.4,115.9 L789.2,115.0 L794.2,114.2 L799.2,125.9 L804.2,125.1 L810.1,123.4 L815.1,129.2 L820.1,140.1 L825.1,135.1 L830.1,130.9 L835.9,135.9 L841.8,137.6 L846.8,143.4 L851.8,138.4 L856.8,145.9 L861.8,150.1 L866.8,151.8 L871.8,156.3 L877.5,162.5 L882.5,159.2 L888.4,160.9 L893.4,158.4 L898.4,165.0 L903.4,161.7 L908.4,170.0 L914.2,166.7 L919.2,167.5 L924.3,169.2 L929.3,175.9 L934.3,174.2 L940.1,179.2 L945.0,194.2 L950.0,190.0 L955.9,197.3 L960.9,205.5 L965.9,202.5 L970.9,212.0 L975.9,210.0 L980.9,216.7 L986.7,222.6 L991.8,232.6 L996.8,225.1 L1002.6,228.4 L1007.6,233.4 L1012.6,244.6 L1017.6,240.0 L1023.5,241.7 L1028.5,247.2 L1033.5,250.9 L1038.5,261.0 L1043.3,257.7 L1048.4,275.3 L1053.6,263.0 L1058.8,270.9 L1064.0,268.5 L1069.2,277.7 L1074.4,281.3 L1079.7,270.9 L1084.9,264.6 L1090.1,268.3 L1095.3,270.4 L1100.5,273.5 L1105.8,271.4 L1111.0,273.5 L1116.2,271.9 L1121.4,270.4 L1126.6,274.5 L1131.9,271.9 L1136.2,271.4 L1139.3,272.4" fill="none" stroke="#0000f6" stroke-width="1.2"/>
<g><rect x="675.10" y="67.90" width="7.2" height="7.2" fill="#0000f6"/><rect x="680.90" y="72.10" width="7.2" height="7.2" fill="#0000f6"/><rect x="686.80" y="68.70" width="7.2" height="7.2" fill="#0000f6"/><rect x="692.60" y="67.90" width="7.2" height="7.2" fill="#0000f6"/><rect x="697.40" y="69.40" width="7.2" height="7.2" fill="#0000f6"/><rect x="702.60" y="69.60" width="7.2" height="7.2" fill="#0000f6"/><rect x="707.60" y="73.80" width="7.2" height="7.2" fill="#0000f6"/><rect x="712.60" y="74.60" width="7.2" height="7.2" fill="#0000f6"/><rect x="717.60" y="81.30" width="7.2" height="7.2" fill="#0000f6"/><rect x="722.70" y="77.90" width="7.2" height="7.2" fill="#0000f6"/><rect x="728.50" y="87.10" width="7.2" height="7.2" fill="#0000f6"/><rect x="733.50" y="84.60" width="7.2" height="7.2" fill="#0000f6"/><rect x="738.50" y="92.10" width="7.2" height="7.2" fill="#0000f6"/><rect x="744.40" y="98.80" width="7.2" height="7.2" fill="#0000f6"/><rect x="749.40" y="98.00" width="7.2" height="7.2" fill="#0000f6"/><rect x="755.20" y="105.50" width="7.2" height="7.2" fill="#0000f6"/><rect x="760.20" y="103.00" width="7.2" height="7.2" fill="#0000f6"/><rect x="765.20" y="103.80" width="7.2" height="7.2" fill="#0000f6"/><rect x="770.40" y="105.20" width="7.2" height="7.2" fill="#0000f6"/><rect x="774.70" y="113.90" width="7.2" height="7.2" fill="#0000f6"/><rect x="779.80" y="112.30" width="7.2" height="7.2" fill="#0000f6"/><rect x="785.60" y="111.40" width="7.2" height="7.2" fill="#0000f6"/><rect x="790.60" y="110.60" width="7.2" height="7.2" fill="#0000f6"/><rect x="795.60" y="122.30" width="7.2" height="7.2" fill="#0000f6"/><rect x="800.60" y="121.50" width="7.2" height="7.2" fill="#0000f6"/><rect x="806.50" y="119.80" width="7.2" height="7.2" fill="#0000f6"/><rect x="811.50" y="125.60" width="7.2" height="7.2" fill="#0000f6"/><rect x="816.50" y="136.50" width="7.2" height="7.2" fill="#0000f6"/><rect x="821.50" y="131.50" width="7.2" height="7.2" fill="#0000f6"/><rect x="826.50" y="127.30" width="7.2" height="7.2" fill="#0000f6"/><rect x="832.30" y="132.30" width="7.2" height="7.2" fill="#0000f6"/><rect x="838.20" y="134.00" width="7.2" height="7.2" fill="#0000f6"/><rect x="843.20" y="139.80" width="7.2" height="7.2" fill="#0000f6"/><rect x="848.20" y="134.80" width="7.2" height="7.2" fill="#0000f6"/><rect x="853.20" y="142.30" width="7.2" height="7.2" fill="#0000f6"/><rect x="858.20" y="146.50" width="7.2" height="7.2" fill="#0000f6"/><rect x="863.20" y="148.20" width="7.2" height="7.2" fill="#0000f6"/><rect x="868.20" y="152.70" width="7.2" height="7.2" fill="#0000f6"/><rect x="873.90" y="158.90" width="7.2" height="7.2" fill="#0000f6"/><rect x="878.90" y="155.60" width="7.2" height="7.2" fill="#0000f6"/><rect x="884.80" y="157.30" width="7.2" height="7.2" fill="#0000f6"/><rect x="889.80" y="154.80" width="7.2" height="7.2" fill="#0000f6"/><rect x="894.80" y="161.40" width="7.2" height="7.2" fill="#0000f6"/><rect x="899.80" y="158.10" width="7.2" height="7.2" fill="#0000f6"/><rect x="904.80" y="166.40" width="7.2" height="7.2" fill="#0000f6"/><rect x="910.60" y="163.10" width="7.2" height="7.2" fill="#0000f6"/><rect x="915.60" y="163.90" width="7.2" height="7.2" fill="#0000f6"/><rect x="920.70" y="165.60" width="7.2" height="7.2" fill="#0000f6"/><rect x="925.70" y="172.30" width="7.2" height="7.2" fill="#0000f6"/><rect x="930.70" y="170.60" width="7.2" height="7.2" fill="#0000f6"/><rect x="936.50" y="175.60" width="7.2" height="7.2" fill="#0000f6"/><rect x="941.40" y="190.60" width="7.2" height="7.2" fill="#0000f6"/><rect x="946.40" y="186.40" width="7.2" height="7.2" fill="#0000f6"/><rect x="952.30" y="193.70" width="7.2" height="7.2" fill="#0000f6"/><rect x="957.30" y="201.90" width="7.2" height="7.2" fill="#0000f6"/><rect x="962.30" y="198.90" width="7.2" height="7.2" fill="#0000f6"/><rect x="967.30" y="208.40" width="7.2" height="7.2" fill="#0000f6"/><rect x="972.30" y="206.40" width="7.2" height="7.2" fill="#0000f6"/><rect x="977.30" y="213.10" width="7.2" height="7.2" fill="#0000f6"/><rect x="983.10" y="219.00" width="7.2" height="7.2" fill="#0000f6"/><rect x="988.20" y="229.00" width="7.2" height="7.2" fill="#0000f6"/><rect x="993.20" y="221.50" width="7.2" height="7.2" fill="#0000f6"/><rect x="999.00" y="224.80" width="7.2" height="7.2" fill="#0000f6"/><rect x="1004.00" y="229.80" width="7.2" height="7.2" fill="#0000f6"/><rect x="1009.00" y="241.00" width="7.2" height="7.2" fill="#0000f6"/><rect x="1014.00" y="236.40" width="7.2" height="7.2" fill="#0000f6"/><rect x="1019.90" y="238.10" width="7.2" height="7.2" fill="#0000f6"/><rect x="1024.90" y="243.60" width="7.2" height="7.2" fill="#0000f6"/><rect x="1029.90" y="247.30" width="7.2" height="7.2" fill="#0000f6"/><rect x="1034.90" y="257.40" width="7.2" height="7.2" fill="#0000f6"/><rect x="1039.70" y="254.10" width="7.2" height="7.2" fill="#0000f6"/><rect x="1044.80" y="271.70" width="7.2" height="7.2" fill="#0000f6"/><rect x="1050.00" y="259.40" width="7.2" height="7.2" fill="#0000f6"/><rect x="1055.20" y="267.30" width="7.2" height="7.2" fill="#0000f6"/><rect x="1060.40" y="264.90" width="7.2" height="7.2" fill="#0000f6"/><rect x="1065.60" y="274.10" width="7.2" height="7.2" fill="#0000f6"/><rect x="1070.80" y="277.70" width="7.2" height="7.2" fill="#0000f6"/><rect x="1076.10" y="267.30" width="7.2" height="7.2" fill="#0000f6"/><rect x="1081.30" y="261.00" width="7.2" height="7.2" fill="#0000f6"/><rect x="1086.50" y="264.70" width="7.2" height="7.2" fill="#0000f6"/><rect x="1091.70" y="266.80" width="7.2" height="7.2" fill="#0000f6"/><rect x="1096.90" y="269.90" width="7.2" height="7.2" fill="#0000f6"/><rect x="1102.20" y="267.80" width="7.2" height="7.2" fill="#0000f6"/><rect x="1107.40" y="269.90" width="7.2" height="7.2" fill="#0000f6"/><rect x="1112.60" y="268.30" width="7.2" height="7.2" fill="#0000f6"/><rect x="1117.80" y="266.80" width="7.2" height="7.2" fill="#0000f6"/><rect x="1123.00" y="270.90" width="7.2" height="7.2" fill="#0000f6"/><rect x="1128.30" y="268.30" width="7.2" height="7.2" fill="#0000f6"/><rect x="1132.60" y="267.80" width="7.2" height="7.2" fill="#0000f6"/><rect x="1135.70" y="268.80" width="7.2" height="7.2" fill="#0000f6"/></g>
<path d="M677.0,70.7 L682.9,71.5 L688.7,71.5 L694.5,75.7 L700.4,78.2 L705.4,98.2 L711.2,89.0 L716.2,101.6 L721.2,113.2 L726.3,94.9 L732.1,106.6 L737.1,121.6 L742.1,112.4 L748.0,121.6 L753.0,114.1 L758.0,118.3 L763.0,124.1 L768.0,116.6 L773.0,131.6 L777.5,134.2 L783.4,125.9 L789.2,128.4 L794.2,140.1 L799.2,140.1 L804.2,148.4 L810.1,156.8 L815.1,145.9 L820.1,152.6 L825.1,160.9 L830.1,151.8 L835.1,155.9 L840.1,161.8 L846.0,163.4 L851.8,171.0 L856.8,163.4 L861.8,166.0 L866.8,171.0 L871.8,166.8 L877.0,171.0 L882.5,175.1 L888.4,170.0 L893.4,180.9 L899.2,176.7 L903.4,194.3 L908.4,181.7 L914.2,197.6 L919.2,190.1 L924.3,185.9 L929.3,203.4 L935.1,207.6 L940.1,212.6 L946.0,205.9 L950.5,218.0 L955.9,219.5 L960.0,241.8 L965.0,243.4 L970.9,244.3 L975.9,268.0 L981.7,281.7 L986.7,275.0 L991.5,306.0 L996.3,324.0 L1001.7,337.6 L1007.2,326.7 L1012.6,353.9 L1016.7,364.7 L1022.1,372.9 L1027.6,385.1 L1033.0,370.6 L1038.7,397.0 L1044.0,385.0 L1048.5,405.0 L1054.2,400.9 L1060.0,400.9 L1064.5,403.0 L1069.2,404.2 L1074.3,409.2 L1080.1,396.7 L1085.1,401.7 L1090.1,398.4 L1095.1,397.5 L1100.2,397.5 L1105.2,402.6 L1111.0,397.5 L1116.0,401.7 L1121.0,396.7 L1126.0,399.2 L1131.1,400.9 L1135.0,400.0 L1139.8,398.4" fill="none" stroke="#000" stroke-width="1.4"/>
<g><path d="M677.00,65.75 L682.00,74.75 L672.00,74.75 Z" fill="#000"/><path d="M682.90,66.55 L687.90,75.55 L677.90,75.55 Z" fill="#000"/><path d="M688.70,66.55 L693.70,75.55 L683.70,75.55 Z" fill="#000"/><path d="M694.50,70.75 L699.50,79.75 L689.50,79.75 Z" fill="#000"/><path d="M700.40,73.25 L705.40,82.25 L695.40,82.25 Z" fill="#000"/><path d="M705.40,93.25 L710.40,102.25 L700.40,102.25 Z" fill="#000"/><path d="M711.20,84.05 L716.20,93.05 L706.20,93.05 Z" fill="#000"/><path d="M716.20,96.65 L721.20,105.65 L711.20,105.65 Z" fill="#000"/><path d="M721.20,108.25 L726.20,117.25 L716.20,117.25 Z" fill="#000"/><path d="M726.30,89.95 L731.30,98.95 L721.30,98.95 Z" fill="#000"/><path d="M732.10,101.65 L737.10,110.65 L727.10,110.65 Z" fill="#000"/><path d="M737.10,116.65 L742.10,125.65 L732.10,125.65 Z" fill="#000"/><path d="M742.10,107.45 L747.10,116.45 L737.10,116.45 Z" fill="#000"/><path d="M748.00,116.65 L753.00,125.65 L743.00,125.65 Z" fill="#000"/><path d="M753.00,109.15 L758.00,118.15 L748.00,118.15 Z" fill="#000"/><path d="M758.00,113.35 L763.00,122.35 L753.00,122.35 Z" fill="#000"/><path d="M763.00,119.15 L768.00,128.15 L758.00,128.15 Z" fill="#000"/><path d="M768.00,111.65 L773.00,120.65 L763.00,120.65 Z" fill="#000"/><path d="M773.00,126.65 L778.00,135.65 L768.00,135.65 Z" fill="#000"/><path d="M777.50,129.25 L782.50,138.25 L772.50,138.25 Z" fill="#000"/><path d="M783.40,120.95 L788.40,129.95 L778.40,129.95 Z" fill="#000"/><path d="M789.20,123.45 L794.20,132.45 L784.20,132.45 Z" fill="#000"/><path d="M794.20,135.15 L799.20,144.15 L789.20,144.15 Z" fill="#000"/><path d="M799.20,135.15 L804.20,144.15 L794.20,144.15 Z" fill="#000"/><path d="M804.20,143.45 L809.20,152.45 L799.20,152.45 Z" fill="#000"/><path d="M810.10,151.85 L815.10,160.85 L805.10,160.85 Z" fill="#000"/><path d="M815.10,140.95 L820.10,149.95 L810.10,149.95 Z" fill="#000"/><path d="M820.10,147.65 L825.10,156.65 L815.10,156.65 Z" fill="#000"/><path d="M825.10,155.95 L830.10,164.95 L820.10,164.95 Z" fill="#000"/><path d="M830.10,146.85 L835.10,155.85 L825.10,155.85 Z" fill="#000"/><path d="M835.10,150.95 L840.10,159.95 L830.10,159.95 Z" fill="#000"/><path d="M840.10,156.85 L845.10,165.85 L835.10,165.85 Z" fill="#000"/><path d="M846.00,158.45 L851.00,167.45 L841.00,167.45 Z" fill="#000"/><path d="M851.80,166.05 L856.80,175.05 L846.80,175.05 Z" fill="#000"/><path d="M856.80,158.45 L861.80,167.45 L851.80,167.45 Z" fill="#000"/><path d="M861.80,161.05 L866.80,170.05 L856.80,170.05 Z" fill="#000"/><path d="M866.80,166.05 L871.80,175.05 L861.80,175.05 Z" fill="#000"/><path d="M871.80,161.85 L876.80,170.85 L866.80,170.85 Z" fill="#000"/><path d="M877.00,166.05 L882.00,175.05 L872.00,175.05 Z" fill="#000"/><path d="M882.50,170.15 L887.50,179.15 L877.50,179.15 Z" fill="#000"/><path d="M888.40,165.05 L893.40,174.05 L883.40,174.05 Z" fill="#000"/><path d="M893.40,175.95 L898.40,184.95 L888.40,184.95 Z" fill="#000"/><path d="M899.20,171.75 L904.20,180.75 L894.20,180.75 Z" fill="#000"/><path d="M903.40,189.35 L908.40,198.35 L898.40,198.35 Z" fill="#000"/><path d="M908.40,176.75 L913.40,185.75 L903.40,185.75 Z" fill="#000"/><path d="M914.20,192.65 L919.20,201.65 L909.20,201.65 Z" fill="#000"/><path d="M919.20,185.15 L924.20,194.15 L914.20,194.15 Z" fill="#000"/><path d="M924.30,180.95 L929.30,189.95 L919.30,189.95 Z" fill="#000"/><path d="M929.30,198.45 L934.30,207.45 L924.30,207.45 Z" fill="#000"/><path d="M935.10,202.65 L940.10,211.65 L930.10,211.65 Z" fill="#000"/><path d="M940.10,207.65 L945.10,216.65 L935.10,216.65 Z" fill="#000"/><path d="M946.00,200.95 L951.00,209.95 L941.00,209.95 Z" fill="#000"/><path d="M950.50,213.05 L955.50,222.05 L945.50,222.05 Z" fill="#000"/><path d="M955.90,214.55 L960.90,223.55 L950.90,223.55 Z" fill="#000"/><path d="M960.00,236.85 L965.00,245.85 L955.00,245.85 Z" fill="#000"/><path d="M965.00,238.45 L970.00,247.45 L960.00,247.45 Z" fill="#000"/><path d="M970.90,239.35 L975.90,248.35 L965.90,248.35 Z" fill="#000"/><path d="M975.90,263.05 L980.90,272.05 L970.90,272.05 Z" fill="#000"/><path d="M981.70,276.75 L986.70,285.75 L976.70,285.75 Z" fill="#000"/><path d="M986.70,270.05 L991.70,279.05 L981.70,279.05 Z" fill="#000"/><path d="M991.50,301.05 L996.50,310.05 L986.50,310.05 Z" fill="#000"/><path d="M996.30,319.05 L1001.30,328.05 L991.30,328.05 Z" fill="#000"/><path d="M1001.70,332.65 L1006.70,341.65 L996.70,341.65 Z" fill="#000"/><path d="M1007.20,321.75 L1012.20,330.75 L1002.20,330.75 Z" fill="#000"/><path d="M1012.60,348.95 L1017.60,357.95 L1007.60,357.95 Z" fill="#000"/><path d="M1016.70,359.75 L1021.70,368.75 L1011.70,368.75 Z" fill="#000"/><path d="M1022.10,367.95 L1027.10,376.95 L1017.10,376.95 Z" fill="#000"/><path d="M1027.60,380.15 L1032.60,389.15 L1022.60,389.15 Z" fill="#000"/><path d="M1033.00,365.65 L1038.00,374.65 L1028.00,374.65 Z" fill="#000"/><path d="M1038.70,392.05 L1043.70,401.05 L1033.70,401.05 Z" fill="#000"/><path d="M1044.00,380.05 L1049.00,389.05 L1039.00,389.05 Z" fill="#000"/><path d="M1048.50,400.05 L1053.50,409.05 L1043.50,409.05 Z" fill="#000"/><path d="M1054.20,395.95 L1059.20,404.95 L1049.20,404.95 Z" fill="#000"/><path d="M1060.00,395.95 L1065.00,404.95 L1055.00,404.95 Z" fill="#000"/><path d="M1064.50,398.05 L1069.50,407.05 L1059.50,407.05 Z" fill="#000"/><path d="M1069.20,399.25 L1074.20,408.25 L1064.20,408.25 Z" fill="#000"/><path d="M1074.30,404.25 L1079.30,413.25 L1069.30,413.25 Z" fill="#000"/><path d="M1080.10,391.75 L1085.10,400.75 L1075.10,400.75 Z" fill="#000"/><path d="M1085.10,396.75 L1090.10,405.75 L1080.10,405.75 Z" fill="#000"/><path d="M1090.10,393.45 L1095.10,402.45 L1085.10,402.45 Z" fill="#000"/><path d="M1095.10,392.55 L1100.10,401.55 L1090.10,401.55 Z" fill="#000"/><path d="M1100.20,392.55 L1105.20,401.55 L1095.20,401.55 Z" fill="#000"/><path d="M1105.20,397.65 L1110.20,406.65 L1100.20,406.65 Z" fill="#000"/><path d="M1111.00,392.55 L1116.00,401.55 L1106.00,401.55 Z" fill="#000"/><path d="M1116.00,396.75 L1121.00,405.75 L1111.00,405.75 Z" fill="#000"/><path d="M1121.00,391.75 L1126.00,400.75 L1116.00,400.75 Z" fill="#000"/><path d="M1126.00,394.25 L1131.00,403.25 L1121.00,403.25 Z" fill="#000"/><path d="M1131.10,395.95 L1136.10,404.95 L1126.10,404.95 Z" fill="#000"/><path d="M1135.00,395.05 L1140.00,404.05 L1130.00,404.05 Z" fill="#000"/><path d="M1139.80,393.45 L1144.80,402.45 L1134.80,402.45 Z" fill="#000"/></g>
</g>
<clipPath id="clipC"><rect x="1266.5" y="71.5" width="496.3" height="379.0"/></clipPath>
<g clip-path="url(#clipC)">
<path d="M1282.5,75.2 L1289.0,76.0 L1295.0,72.7 L1300.9,90.2 L1305.9,80.2 L1311.7,73.5 L1317.6,87.7 L1322.6,93.5 L1328.4,101.9 L1333.4,96.0 L1339.3,105.2 L1345.1,98.6 L1351.0,107.7 L1356.8,106.1 L1361.8,111.9 L1367.7,107.7 L1372.7,122.8 L1378.4,113.0 L1384.2,118.2 L1390.0,122.6 L1395.0,138.0 L1400.5,126.3 L1406.3,130.1 L1412.2,137.1 L1417.6,141.2 L1422.6,133.4 L1428.4,144.6 L1434.3,148.8 L1439.3,140.5 L1445.1,155.5 L1451.0,145.9 L1456.8,160.5 L1462.7,166.4 L1467.6,170.9 L1472.6,182.6 L1478.4,172.6 L1484.3,184.2 L1490.1,163.4 L1496.0,172.6 L1501.3,185.9 L1506.8,195.5 L1512.6,203.4 L1517.6,212.0 L1523.4,208.4 L1529.2,215.1 L1534.2,227.6 L1540.1,220.9 L1545.1,234.6 L1550.9,225.1 L1556.8,236.3 L1561.8,230.1 L1566.8,245.5 L1572.6,234.6 L1578.5,254.6 L1583.8,248.0 L1589.3,241.3 L1595.1,254.6 L1600.5,260.5 L1606.3,264.2 L1611.7,260.9 L1617.6,275.1 L1623.4,272.6 L1628.4,268.4 L1634.3,260.9 L1639.3,266.7 L1646.0,267.5 L1651.0,271.7 L1656.0,267.5 L1662.5,273.0 L1667.5,263.4 L1672.5,265.0 L1678.0,267.1 L1684.2,267.1 L1689.7,268.0 L1695.1,269.2 L1700.5,269.6 L1705.5,269.6 L1711.0,270.0 L1717.6,263.8 L1723.5,266.3 L1728.1,270.9 L1733.5,265.0 L1739.0,267.1 L1744.4,268.8 L1746.5,269.2" fill="none" stroke="#0000f6" stroke-width="1.2"/>
<g><rect x="1278.90" y="71.60" width="7.2" height="7.2" fill="#0000f6"/><rect x="1285.40" y="72.40" width="7.2" height="7.2" fill="#0000f6"/><rect x="1291.40" y="69.10" width="7.2" height="7.2" fill="#0000f6"/><rect x="1297.30" y="86.60" width="7.2" height="7.2" fill="#0000f6"/><rect x="1302.30" y="76.60" width="7.2" height="7.2" fill="#0000f6"/><rect x="1308.10" y="69.90" width="7.2" height="7.2" fill="#0000f6"/><rect x="1314.00" y="84.10" width="7.2" height="7.2" fill="#0000f6"/><rect x="1319.00" y="89.90" width="7.2" height="7.2" fill="#0000f6"/><rect x="1324.80" y="98.30" width="7.2" height="7.2" fill="#0000f6"/><rect x="1329.80" y="92.40" width="7.2" height="7.2" fill="#0000f6"/><rect x="1335.70" y="101.60" width="7.2" height="7.2" fill="#0000f6"/><rect x="1341.50" y="95.00" width="7.2" height="7.2" fill="#0000f6"/><rect x="1347.40" y="104.10" width="7.2" height="7.2" fill="#0000f6"/><rect x="1353.20" y="102.50" width="7.2" height="7.2" fill="#0000f6"/><rect x="1358.20" y="108.30" width="7.2" height="7.2" fill="#0000f6"/><rect x="1364.10" y="104.10" width="7.2" height="7.2" fill="#0000f6"/><rect x="1369.10" y="119.20" width="7.2" height="7.2" fill="#0000f6"/><rect x="1374.80" y="109.40" width="7.2" height="7.2" fill="#0000f6"/><rect x="1380.60" y="114.60" width="7.2" height="7.2" fill="#0000f6"/><rect x="1386.40" y="119.00" width="7.2" height="7.2" fill="#0000f6"/><rect x="1391.40" y="134.40" width="7.2" height="7.2" fill="#0000f6"/><rect x="1396.90" y="122.70" width="7.2" height="7.2" fill="#0000f6"/><rect x="1402.70" y="126.50" width="7.2" height="7.2" fill="#0000f6"/><rect x="1408.60" y="133.50" width="7.2" height="7.2" fill="#0000f6"/><rect x="1414.00" y="137.60" width="7.2" height="7.2" fill="#0000f6"/><rect x="1419.00" y="129.80" width="7.2" height="7.2" fill="#0000f6"/><rect x="1424.80" y="141.00" width="7.2" height="7.2" fill="#0000f6"/><rect x="1430.70" y="145.20" width="7.2" height="7.2" fill="#0000f6"/><rect x="1435.70" y="136.90" width="7.2" height="7.2" fill="#0000f6"/><rect x="1441.50" y="151.90" width="7.2" height="7.2" fill="#0000f6"/><rect x="1447.40" y="142.30" width="7.2" height="7.2" fill="#0000f6"/><rect x="1453.20" y="156.90" width="7.2" height="7.2" fill="#0000f6"/><rect x="1459.10" y="162.80" width="7.2" height="7.2" fill="#0000f6"/><rect x="1464.00" y="167.30" width="7.2" height="7.2" fill="#0000f6"/><rect x="1469.00" y="179.00" width="7.2" height="7.2" fill="#0000f6"/><rect x="1474.80" y="169.00" width="7.2" height="7.2" fill="#0000f6"/><rect x="1480.70" y="180.60" width="7.2" height="7.2" fill="#0000f6"/><rect x="1486.50" y="159.80" width="7.2" height="7.2" fill="#0000f6"/><rect x="1492.40" y="169.00" width="7.2" height="7.2" fill="#0000f6"/><rect x="1497.70" y="182.30" width="7.2" height="7.2" fill="#0000f6"/><rect x="1503.20" y="191.90" width="7.2" height="7.2" fill="#0000f6"/><rect x="1509.00" y="199.80" width="7.2" height="7.2" fill="#0000f6"/><rect x="1514.00" y="208.40" width="7.2" height="7.2" fill="#0000f6"/><rect x="1519.80" y="204.80" width="7.2" height="7.2" fill="#0000f6"/><rect x="1525.60" y="211.50" width="7.2" height="7.2" fill="#0000f6"/><rect x="1530.60" y="224.00" width="7.2" height="7.2" fill="#0000f6"/><rect x="1536.50" y="217.30" width="7.2" height="7.2" fill="#0000f6"/><rect x="1541.50" y="231.00" width="7.2" height="7.2" fill="#0000f6"/><rect x="1547.30" y="221.50" width="7.2" height="7.2" fill="#0000f6"/><rect x="1553.20" y="232.70" width="7.2" height="7.2" fill="#0000f6"/><rect x="1558.20" y="226.50" width="7.2" height="7.2" fill="#0000f6"/><rect x="1563.20" y="241.90" width="7.2" height="7.2" fill="#0000f6"/><rect x="1569.00" y="231.00" width="7.2" height="7.2" fill="#0000f6"/><rect x="1574.90" y="251.00" width="7.2" height="7.2" fill="#0000f6"/><rect x="1580.20" y="244.40" width="7.2" height="7.2" fill="#0000f6"/><rect x="1585.70" y="237.70" width="7.2" height="7.2" fill="#0000f6"/><rect x="1591.50" y="251.00" width="7.2" height="7.2" fill="#0000f6"/><rect x="1596.90" y="256.90" width="7.2" height="7.2" fill="#0000f6"/><rect x="1602.70" y="260.60" width="7.2" height="7.2" fill="#0000f6"/><rect x="1608.10" y="257.30" width="7.2" height="7.2" fill="#0000f6"/><rect x="1614.00" y="271.50" width="7.2" height="7.2" fill="#0000f6"/><rect x="1619.80" y="269.00" width="7.2" height="7.2" fill="#0000f6"/><rect x="1624.80" y="264.80" width="7.2" height="7.2" fill="#0000f6"/><rect x="1630.70" y="257.30" width="7.2" height="7.2" fill="#0000f6"/><rect x="1635.70" y="263.10" width="7.2" height="7.2" fill="#0000f6"/><rect x="1642.40" y="263.90" width="7.2" height="7.2" fill="#0000f6"/><rect x="1647.40" y="268.10" width="7.2" height="7.2" fill="#0000f6"/><rect x="1652.40" y="263.90" width="7.2" height="7.2" fill="#0000f6"/><rect x="1658.90" y="269.40" width="7.2" height="7.2" fill="#0000f6"/><rect x="1663.90" y="259.80" width="7.2" height="7.2" fill="#0000f6"/><rect x="1668.90" y="261.40" width="7.2" height="7.2" fill="#0000f6"/><rect x="1674.40" y="263.50" width="7.2" height="7.2" fill="#0000f6"/><rect x="1680.60" y="263.50" width="7.2" height="7.2" fill="#0000f6"/><rect x="1686.10" y="264.40" width="7.2" height="7.2" fill="#0000f6"/><rect x="1691.50" y="265.60" width="7.2" height="7.2" fill="#0000f6"/><rect x="1696.90" y="266.00" width="7.2" height="7.2" fill="#0000f6"/><rect x="1701.90" y="266.00" width="7.2" height="7.2" fill="#0000f6"/><rect x="1707.40" y="266.40" width="7.2" height="7.2" fill="#0000f6"/><rect x="1714.00" y="260.20" width="7.2" height="7.2" fill="#0000f6"/><rect x="1719.90" y="262.70" width="7.2" height="7.2" fill="#0000f6"/><rect x="1724.50" y="267.30" width="7.2" height="7.2" fill="#0000f6"/><rect x="1729.90" y="261.40" width="7.2" height="7.2" fill="#0000f6"/><rect x="1735.40" y="263.50" width="7.2" height="7.2" fill="#0000f6"/><rect x="1740.80" y="265.20" width="7.2" height="7.2" fill="#0000f6"/><rect x="1742.90" y="265.60" width="7.2" height="7.2" fill="#0000f6"/></g>
<path d="M1283.8,73.2 L1288.4,80.2 L1294.2,85.2 L1300.0,96.9 L1305.9,95.2 L1310.9,103.6 L1316.7,119.4 L1322.6,137.8 L1328.4,150.9 L1334.2,140.0 L1340.0,165.1 L1345.1,143.4 L1350.9,146.7 L1355.9,150.9 L1361.8,140.9 L1366.8,154.2 L1372.6,167.6 L1378.4,160.1 L1384.3,155.1 L1389.3,175.1 L1395.1,161.7 L1400.2,167.6 L1406.0,175.1 L1411.8,161.7 L1416.8,166.7 L1422.5,179.2 L1428.4,158.4 L1434.2,165.0 L1439.5,170.0 L1445.1,175.9 L1450.9,163.4 L1456.7,174.2 L1462.6,167.5 L1467.6,173.4 L1473.4,165.0 L1477.6,194.3 L1484.3,184.2 L1489.3,199.3 L1495.1,182.6 L1501.0,191.8 L1506.8,195.1 L1511.8,218.5 L1516.7,235.9 L1523.4,225.1 L1528.4,251.0 L1534.2,255.5 L1540.1,273.4 L1545.1,256.0 L1550.9,249.0 L1556.8,261.7 L1562.6,272.6 L1567.6,289.3 L1573.5,281.8 L1578.5,295.9 L1583.6,310.4 L1589.0,328.0 L1595.8,333.5 L1601.3,322.6 L1606.7,363.4 L1612.1,349.8 L1617.6,368.8 L1624.3,363.4 L1628.4,375.6 L1635.2,368.8 L1640.7,382.4 L1646.1,390.5 L1651.5,398.7 L1656.8,391.9 L1663.0,399.2 L1667.7,393.5 L1673.5,404.4 L1678.7,396.1 L1684.4,399.7 L1690.2,389.3 L1695.9,391.9 L1701.1,395.0 L1706.9,400.3 L1712.1,396.1 L1717.8,395.0 L1723.1,396.1 L1728.8,396.1 L1734.6,395.6 L1739.8,395.0 L1746.0,395.6" fill="none" stroke="#000" stroke-width="1.4"/>
<g><path d="M1283.80,68.25 L1288.80,77.25 L1278.80,77.25 Z" fill="#000"/><path d="M1288.40,75.25 L1293.40,84.25 L1283.40,84.25 Z" fill="#000"/><path d="M1294.20,80.25 L1299.20,89.25 L1289.20,89.25 Z" fill="#000"/><path d="M1300.00,91.95 L1305.00,100.95 L1295.00,100.95 Z" fill="#000"/><path d="M1305.90,90.25 L1310.90,99.25 L1300.90,99.25 Z" fill="#000"/><path d="M1310.90,98.65 L1315.90,107.65 L1305.90,107.65 Z" fill="#000"/><path d="M1316.70,114.45 L1321.70,123.45 L1311.70,123.45 Z" fill="#000"/><path d="M1322.60,132.85 L1327.60,141.85 L1317.60,141.85 Z" fill="#000"/><path d="M1328.40,145.95 L1333.40,154.95 L1323.40,154.95 Z" fill="#000"/><path d="M1334.20,135.05 L1339.20,144.05 L1329.20,144.05 Z" fill="#000"/><path d="M1340.00,160.15 L1345.00,169.15 L1335.00,169.15 Z" fill="#000"/><path d="M1345.10,138.45 L1350.10,147.45 L1340.10,147.45 Z" fill="#000"/><path d="M1350.90,141.75 L1355.90,150.75 L1345.90,150.75 Z" fill="#000"/><path d="M1355.90,145.95 L1360.90,154.95 L1350.90,154.95 Z" fill="#000"/><path d="M1361.80,135.95 L1366.80,144.95 L1356.80,144.95 Z" fill="#000"/><path d="M1366.80,149.25 L1371.80,158.25 L1361.80,158.25 Z" fill="#000"/><path d="M1372.60,162.65 L1377.60,171.65 L1367.60,171.65 Z" fill="#000"/><path d="M1378.40,155.15 L1383.40,164.15 L1373.40,164.15 Z" fill="#000"/><path d="M1384.30,150.15 L1389.30,159.15 L1379.30,159.15 Z" fill="#000"/><path d="M1389.30,170.15 L1394.30,179.15 L1384.30,179.15 Z" fill="#000"/><path d="M1395.10,156.75 L1400.10,165.75 L1390.10,165.75 Z" fill="#000"/><path d="M1400.20,162.65 L1405.20,171.65 L1395.20,171.65 Z" fill="#000"/><path d="M1406.00,170.15 L1411.00,179.15 L1401.00,179.15 Z" fill="#000"/><path d="M1411.80,156.75 L1416.80,165.75 L1406.80,165.75 Z" fill="#000"/><path d="M1416.80,161.75 L1421.80,170.75 L1411.80,170.75 Z" fill="#000"/><path d="M1422.50,174.25 L1427.50,183.25 L1417.50,183.25 Z" fill="#000"/><path d="M1428.40,153.45 L1433.40,162.45 L1423.40,162.45 Z" fill="#000"/><path d="M1434.20,160.05 L1439.20,169.05 L1429.20,169.05 Z" fill="#000"/><path d="M1439.50,165.05 L1444.50,174.05 L1434.50,174.05 Z" fill="#000"/><path d="M1445.10,170.95 L1450.10,179.95 L1440.10,179.95 Z" fill="#000"/><path d="M1450.90,158.45 L1455.90,167.45 L1445.90,167.45 Z" fill="#000"/><path d="M1456.70,169.25 L1461.70,178.25 L1451.70,178.25 Z" fill="#000"/><path d="M1462.60,162.55 L1467.60,171.55 L1457.60,171.55 Z" fill="#000"/><path d="M1467.60,168.45 L1472.60,177.45 L1462.60,177.45 Z" fill="#000"/><path d="M1473.40,160.05 L1478.40,169.05 L1468.40,169.05 Z" fill="#000"/><path d="M1477.60,189.35 L1482.60,198.35 L1472.60,198.35 Z" fill="#000"/><path d="M1484.30,179.25 L1489.30,188.25 L1479.30,188.25 Z" fill="#000"/><path d="M1489.30,194.35 L1494.30,203.35 L1484.30,203.35 Z" fill="#000"/><path d="M1495.10,177.65 L1500.10,186.65 L1490.10,186.65 Z" fill="#000"/><path d="M1501.00,186.85 L1506.00,195.85 L1496.00,195.85 Z" fill="#000"/><path d="M1506.80,190.15 L1511.80,199.15 L1501.80,199.15 Z" fill="#000"/><path d="M1511.80,213.55 L1516.80,222.55 L1506.80,222.55 Z" fill="#000"/><path d="M1516.70,230.95 L1521.70,239.95 L1511.70,239.95 Z" fill="#000"/><path d="M1523.40,220.15 L1528.40,229.15 L1518.40,229.15 Z" fill="#000"/><path d="M1528.40,246.05 L1533.40,255.05 L1523.40,255.05 Z" fill="#000"/><path d="M1534.20,250.55 L1539.20,259.55 L1529.20,259.55 Z" fill="#000"/><path d="M1540.10,268.45 L1545.10,277.45 L1535.10,277.45 Z" fill="#000"/><path d="M1545.10,251.05 L1550.10,260.05 L1540.10,260.05 Z" fill="#000"/><path d="M1550.90,244.05 L1555.90,253.05 L1545.90,253.05 Z" fill="#000"/><path d="M1556.80,256.75 L1561.80,265.75 L1551.80,265.75 Z" fill="#000"/><path d="M1562.60,267.65 L1567.60,276.65 L1557.60,276.65 Z" fill="#000"/><path d="M1567.60,284.35 L1572.60,293.35 L1562.60,293.35 Z" fill="#000"/><path d="M1573.50,276.85 L1578.50,285.85 L1568.50,285.85 Z" fill="#000"/><path d="M1578.50,290.95 L1583.50,299.95 L1573.50,299.95 Z" fill="#000"/><path d="M1583.60,305.45 L1588.60,314.45 L1578.60,314.45 Z" fill="#000"/><path d="M1589.00,323.05 L1594.00,332.05 L1584.00,332.05 Z" fill="#000"/><path d="M1595.80,328.55 L1600.80,337.55 L1590.80,337.55 Z" fill="#000"/><path d="M1601.30,317.65 L1606.30,326.65 L1596.30,326.65 Z" fill="#000"/><path d="M1606.70,358.45 L1611.70,367.45 L1601.70,367.45 Z" fill="#000"/><path d="M1612.10,344.85 L1617.10,353.85 L1607.10,353.85 Z" fill="#000"/><path d="M1617.60,363.85 L1622.60,372.85 L1612.60,372.85 Z" fill="#000"/><path d="M1624.30,358.45 L1629.30,367.45 L1619.30,367.45 Z" fill="#000"/><path d="M1628.40,370.65 L1633.40,379.65 L1623.40,379.65 Z" fill="#000"/><path d="M1635.20,363.85 L1640.20,372.85 L1630.20,372.85 Z" fill="#000"/><path d="M1640.70,377.45 L1645.70,386.45 L1635.70,386.45 Z" fill="#000"/><path d="M1646.10,385.55 L1651.10,394.55 L1641.10,394.55 Z" fill="#000"/><path d="M1651.50,393.75 L1656.50,402.75 L1646.50,402.75 Z" fill="#000"/><path d="M1656.80,386.95 L1661.80,395.95 L1651.80,395.95 Z" fill="#000"/><path d="M1663.00,394.25 L1668.00,403.25 L1658.00,403.25 Z" fill="#000"/><path d="M1667.70,388.55 L1672.70,397.55 L1662.70,397.55 Z" fill="#000"/><path d="M1673.50,399.45 L1678.50,408.45 L1668.50,408.45 Z" fill="#000"/><path d="M1678.70,391.15 L1683.70,400.15 L1673.70,400.15 Z" fill="#000"/><path d="M1684.40,394.75 L1689.40,403.75 L1679.40,403.75 Z" fill="#000"/><path d="M1690.20,384.35 L1695.20,393.35 L1685.20,393.35 Z" fill="#000"/><path d="M1695.90,386.95 L1700.90,395.95 L1690.90,395.95 Z" fill="#000"/><path d="M1701.10,390.05 L1706.10,399.05 L1696.10,399.05 Z" fill="#000"/><path d="M1706.90,395.35 L1711.90,404.35 L1701.90,404.35 Z" fill="#000"/><path d="M1712.10,391.15 L1717.10,400.15 L1707.10,400.15 Z" fill="#000"/><path d="M1717.80,390.05 L1722.80,399.05 L1712.80,399.05 Z" fill="#000"/><path d="M1723.10,391.15 L1728.10,400.15 L1718.10,400.15 Z" fill="#000"/><path d="M1728.80,391.15 L1733.80,400.15 L1723.80,400.15 Z" fill="#000"/><path d="M1734.60,390.65 L1739.60,399.65 L1729.60,399.65 Z" fill="#000"/><path d="M1739.80,390.05 L1744.80,399.05 L1734.80,399.05 Z" fill="#000"/><path d="M1746.00,390.65 L1751.00,399.65 L1741.00,399.65 Z" fill="#000"/></g>
</g>
<rect x="111.35" y="112.65" width="18.5" height="18.5" fill="none" stroke="#f01010" stroke-width="3.4"/>
<text x="93.80" y="130.20" font-family="'Liberation Serif', 'Times New Roman', serif" font-size="22.7" text-anchor="start" font-weight="normal" fill="#000" textLength="11.0" lengthAdjust="spacingAndGlyphs">A</text>
<rect x="350.25" y="197.45" width="18.5" height="18.5" fill="none" stroke="#f01010" stroke-width="3.4"/>
<text x="379.00" y="214.50" font-family="'Liberation Serif', 'Times New Roman', serif" font-size="22.7" text-anchor="start" font-weight="normal" fill="#000" textLength="11.4" lengthAdjust="spacingAndGlyphs">B</text>
<rect x="445.55" y="297.25" width="18.5" height="18.5" fill="none" stroke="#f01010" stroke-width="3.4"/>
<text x="450.00" y="290.00" font-family="'Liberation Serif', 'Times New Roman', serif" font-size="22.7" text-anchor="start" font-weight="normal" fill="#000" textLength="10.7" lengthAdjust="spacingAndGlyphs">D</text>
<rect x="454.95" y="419.95" width="18.5" height="18.5" fill="none" stroke="#f01010" stroke-width="3.4"/>
<text x="459.20" y="407.00" font-family="'Liberation Serif', 'Times New Roman', serif" font-size="22.7" text-anchor="start" font-weight="normal" fill="#000" textLength="10.6" lengthAdjust="spacingAndGlyphs">C</text>
<rect x="919.95" y="193.35" width="18.5" height="18.5" fill="none" stroke="#f01010" stroke-width="3.4"/>
<text x="921.60" y="234.80" font-family="'Liberation Serif', 'Times New Roman', serif" font-size="22.7" text-anchor="start" font-weight="normal" fill="#000" textLength="9.4" lengthAdjust="spacingAndGlyphs">A</text>
<rect x="1052.95" y="259.95" width="18.5" height="18.5" fill="none" stroke="#f01010" stroke-width="3.4"/>
<text x="1056.50" y="252.50" font-family="'Liberation Serif', 'Times New Roman', serif" font-size="22.7" text-anchor="start" font-weight="normal" fill="#000" textLength="11.0" lengthAdjust="spacingAndGlyphs">C</text>
<rect x="1048.05" y="393.55" width="18.5" height="18.5" fill="none" stroke="#f01010" stroke-width="3.4"/>
<text x="1052.50" y="387.50" font-family="'Liberation Serif', 'Times New Roman', serif" font-size="22.7" text-anchor="start" font-weight="normal" fill="#000" textLength="10.6" lengthAdjust="spacingAndGlyphs">B</text>
<rect x="1319.75" y="141.75" width="18.5" height="18.5" fill="none" stroke="#f01010" stroke-width="3.4"/>
<text x="1300.40" y="160.80" font-family="'Liberation Serif', 'Times New Roman', serif" font-size="22.7" text-anchor="start" font-weight="normal" fill="#000" textLength="11.0" lengthAdjust="spacingAndGlyphs">A</text>
<rect x="1481.05" y="190.35" width="18.5" height="18.5" fill="none" stroke="#f01010" stroke-width="3.4"/>
<text x="1457.70" y="210.20" font-family="'Liberation Serif', 'Times New Roman', serif" font-size="22.7" text-anchor="start" font-weight="normal" fill="#000" textLength="10.7" lengthAdjust="spacingAndGlyphs">B</text>
<rect x="1640.95" y="262.15" width="18.5" height="18.5" fill="none" stroke="#f01010" stroke-width="3.4"/>
<text x="1646.60" y="254.50" font-family="'Liberation Serif', 'Times New Roman', serif" font-size="22.7" text-anchor="start" font-weight="normal" fill="#000" textLength="10.2" lengthAdjust="spacingAndGlyphs">D</text>
<rect x="1641.75" y="392.05" width="18.5" height="18.5" fill="none" stroke="#f01010" stroke-width="3.4"/>
<text x="1623.10" y="409.80" font-family="'Liberation Serif', 'Times New Roman', serif" font-size="22.7" text-anchor="start" font-weight="normal" fill="#000" textLength="10.9" lengthAdjust="spacingAndGlyphs">C</text>
</svg>
</body></html>
